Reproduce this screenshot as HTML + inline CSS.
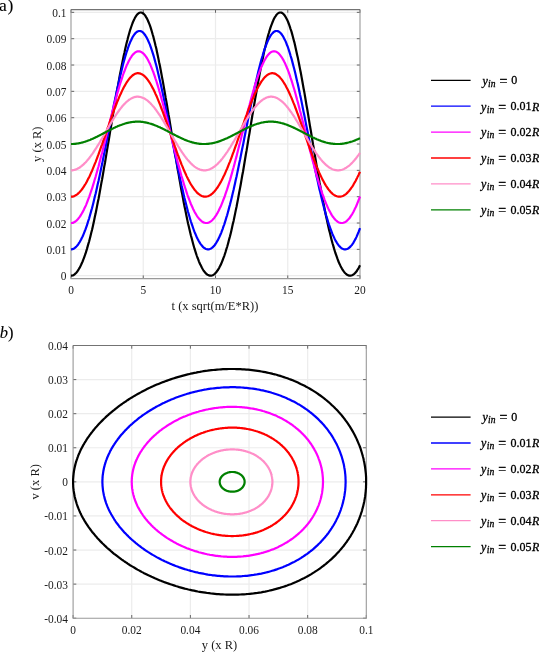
<!DOCTYPE html><html><head><meta charset="utf-8"><style>html,body{margin:0;padding:0;background:#fff;overflow:hidden}svg{display:block}</style></head><body><svg width="539" height="652" viewBox="0 0 539 652">
<rect width="539" height="652" fill="#fff"/>
<g stroke="#ececec" stroke-width="1.2"><line x1="143.25" y1="9.6" x2="143.25" y2="278.6"/><line x1="215.50" y1="9.6" x2="215.50" y2="278.6"/><line x1="287.75" y1="9.6" x2="287.75" y2="278.6"/><line x1="71.0" y1="275.70" x2="360.0" y2="275.70"/><line x1="71.0" y1="249.36" x2="360.0" y2="249.36"/><line x1="71.0" y1="223.03" x2="360.0" y2="223.03"/><line x1="71.0" y1="196.69" x2="360.0" y2="196.69"/><line x1="71.0" y1="170.36" x2="360.0" y2="170.36"/><line x1="71.0" y1="144.02" x2="360.0" y2="144.02"/><line x1="71.0" y1="117.69" x2="360.0" y2="117.69"/><line x1="71.0" y1="91.35" x2="360.0" y2="91.35"/><line x1="71.0" y1="65.02" x2="360.0" y2="65.02"/><line x1="71.0" y1="38.69" x2="360.0" y2="38.69"/><line x1="71.0" y1="12.35" x2="360.0" y2="12.35"/></g>
<g stroke="#666" stroke-width="1"><line x1="71.00" y1="278.6" x2="71.00" y2="275.40000000000003"/><line x1="71.00" y1="9.6" x2="71.00" y2="12.8"/><line x1="143.25" y1="278.6" x2="143.25" y2="275.40000000000003"/><line x1="143.25" y1="9.6" x2="143.25" y2="12.8"/><line x1="215.50" y1="278.6" x2="215.50" y2="275.40000000000003"/><line x1="215.50" y1="9.6" x2="215.50" y2="12.8"/><line x1="287.75" y1="278.6" x2="287.75" y2="275.40000000000003"/><line x1="287.75" y1="9.6" x2="287.75" y2="12.8"/><line x1="360.00" y1="278.6" x2="360.00" y2="275.40000000000003"/><line x1="360.00" y1="9.6" x2="360.00" y2="12.8"/><line x1="71.0" y1="275.70" x2="74.2" y2="275.70"/><line x1="360.0" y1="275.70" x2="356.8" y2="275.70"/><line x1="71.0" y1="249.36" x2="74.2" y2="249.36"/><line x1="360.0" y1="249.36" x2="356.8" y2="249.36"/><line x1="71.0" y1="223.03" x2="74.2" y2="223.03"/><line x1="360.0" y1="223.03" x2="356.8" y2="223.03"/><line x1="71.0" y1="196.69" x2="74.2" y2="196.69"/><line x1="360.0" y1="196.69" x2="356.8" y2="196.69"/><line x1="71.0" y1="170.36" x2="74.2" y2="170.36"/><line x1="360.0" y1="170.36" x2="356.8" y2="170.36"/><line x1="71.0" y1="144.02" x2="74.2" y2="144.02"/><line x1="360.0" y1="144.02" x2="356.8" y2="144.02"/><line x1="71.0" y1="117.69" x2="74.2" y2="117.69"/><line x1="360.0" y1="117.69" x2="356.8" y2="117.69"/><line x1="71.0" y1="91.35" x2="74.2" y2="91.35"/><line x1="360.0" y1="91.35" x2="356.8" y2="91.35"/><line x1="71.0" y1="65.02" x2="74.2" y2="65.02"/><line x1="360.0" y1="65.02" x2="356.8" y2="65.02"/><line x1="71.0" y1="38.69" x2="74.2" y2="38.69"/><line x1="360.0" y1="38.69" x2="356.8" y2="38.69"/><line x1="71.0" y1="12.35" x2="74.2" y2="12.35"/><line x1="360.0" y1="12.35" x2="356.8" y2="12.35"/></g>
<g stroke-width="1.1" fill="none"><path d="M71.0,9.6 L71.0,278.6 L360.0,278.6 L360.0,9.6" stroke="#999999"/><path d="M71.0,9.6 L360.0,9.6" stroke="#737373"/></g>
<g fill="none" stroke-width="2.2" stroke-linejoin="round"><path d="M71.0,275.7 L71.7,275.6 L72.4,275.5 L73.2,275.2 L73.9,274.8 L74.6,274.3 L75.3,273.7 L76.1,273.0 L76.8,272.1 L77.5,271.2 L78.2,270.1 L78.9,269.0 L79.7,267.7 L80.4,266.3 L81.1,264.8 L81.8,263.2 L82.6,261.5 L83.3,259.7 L84.0,257.8 L84.7,255.8 L85.5,253.7 L86.2,251.4 L86.9,249.1 L87.6,246.6 L88.3,244.1 L89.1,241.5 L89.8,238.7 L90.5,235.9 L91.2,233.0 L92.0,230.0 L92.7,226.9 L93.4,223.7 L94.1,220.4 L94.8,217.0 L95.6,213.6 L96.3,210.0 L97.0,206.4 L97.7,202.7 L98.5,199.0 L99.2,195.2 L99.9,191.3 L100.6,187.4 L101.3,183.4 L102.1,179.3 L102.8,175.2 L103.5,171.1 L104.2,166.9 L105.0,162.7 L105.7,158.4 L106.4,154.1 L107.1,149.8 L107.8,145.5 L108.6,141.1 L109.3,136.8 L110.0,132.4 L110.7,128.1 L111.5,123.7 L112.2,119.4 L112.9,115.0 L113.6,110.7 L114.3,106.4 L115.1,102.2 L115.8,98.0 L116.5,93.8 L117.2,89.7 L118.0,85.6 L118.7,81.6 L119.4,77.7 L120.1,73.8 L120.9,70.0 L121.6,66.3 L122.3,62.7 L123.0,59.1 L123.7,55.7 L124.5,52.4 L125.2,49.1 L125.9,46.0 L126.6,43.0 L127.4,40.1 L128.1,37.3 L128.8,34.7 L129.5,32.2 L130.2,29.8 L131.0,27.5 L131.7,25.5 L132.4,23.5 L133.1,21.7 L133.9,20.1 L134.6,18.6 L135.3,17.3 L136.0,16.1 L136.7,15.1 L137.5,14.2 L138.2,13.6 L138.9,13.0 L139.6,12.7 L140.4,12.5 L141.1,12.5 L141.8,12.7 L142.5,13.0 L143.2,13.5 L144.0,14.1 L144.7,14.9 L145.4,15.9 L146.1,17.1 L146.9,18.4 L147.6,19.8 L148.3,21.5 L149.0,23.2 L149.8,25.2 L150.5,27.2 L151.2,29.4 L151.9,31.8 L152.6,34.3 L153.4,36.9 L154.1,39.7 L154.8,42.5 L155.5,45.5 L156.3,48.6 L157.0,51.9 L157.7,55.2 L158.4,58.6 L159.1,62.2 L159.9,65.8 L160.6,69.5 L161.3,73.3 L162.0,77.1 L162.8,81.1 L163.5,85.1 L164.2,89.1 L164.9,93.2 L165.6,97.4 L166.4,101.6 L167.1,105.8 L167.8,110.1 L168.5,114.4 L169.3,118.7 L170.0,123.1 L170.7,127.4 L171.4,131.8 L172.1,136.1 L172.9,140.5 L173.6,144.8 L174.3,149.2 L175.0,153.5 L175.8,157.8 L176.5,162.0 L177.2,166.3 L177.9,170.5 L178.7,174.6 L179.4,178.7 L180.1,182.8 L180.8,186.8 L181.5,190.7 L182.3,194.6 L183.0,198.4 L183.7,202.2 L184.4,205.9 L185.2,209.5 L185.9,213.0 L186.6,216.5 L187.3,219.9 L188.0,223.2 L188.8,226.4 L189.5,229.5 L190.2,232.5 L190.9,235.5 L191.7,238.3 L192.4,241.1 L193.1,243.7 L193.8,246.3 L194.5,248.7 L195.3,251.1 L196.0,253.3 L196.7,255.5 L197.4,257.5 L198.2,259.4 L198.9,261.3 L199.6,263.0 L200.3,264.6 L201.1,266.1 L201.8,267.5 L202.5,268.8 L203.2,270.0 L203.9,271.1 L204.7,272.0 L205.4,272.9 L206.1,273.6 L206.8,274.2 L207.6,274.7 L208.3,275.1 L209.0,275.4 L209.7,275.6 L210.4,275.7 L211.2,275.7 L211.9,275.5 L212.6,275.2 L213.3,274.9 L214.1,274.4 L214.8,273.8 L215.5,273.1 L216.2,272.3 L216.9,271.3 L217.7,270.3 L218.4,269.2 L219.1,267.9 L219.8,266.5 L220.6,265.1 L221.3,263.5 L222.0,261.8 L222.7,260.0 L223.4,258.1 L224.2,256.1 L224.9,254.0 L225.6,251.8 L226.3,249.4 L227.1,247.0 L227.8,244.5 L228.5,241.9 L229.2,239.1 L230.0,236.3 L230.7,233.4 L231.4,230.4 L232.1,227.3 L232.8,224.1 L233.6,220.9 L234.3,217.5 L235.0,214.1 L235.7,210.6 L236.5,207.0 L237.2,203.3 L237.9,199.6 L238.6,195.8 L239.3,191.9 L240.1,187.9 L240.8,184.0 L241.5,179.9 L242.2,175.8 L243.0,171.7 L243.7,167.5 L244.4,163.3 L245.1,159.0 L245.8,154.7 L246.6,150.4 L247.3,146.1 L248.0,141.8 L248.7,137.4 L249.5,133.1 L250.2,128.7 L250.9,124.3 L251.6,120.0 L252.3,115.7 L253.1,111.4 L253.8,107.1 L254.5,102.8 L255.2,98.6 L256.0,94.4 L256.7,90.3 L257.4,86.2 L258.1,82.2 L258.9,78.3 L259.6,74.4 L260.3,70.6 L261.0,66.9 L261.7,63.2 L262.5,59.7 L263.2,56.2 L263.9,52.8 L264.6,49.6 L265.4,46.4 L266.1,43.4 L266.8,40.5 L267.5,37.7 L268.2,35.0 L269.0,32.5 L269.7,30.1 L270.4,27.9 L271.1,25.8 L271.9,23.8 L272.6,22.0 L273.3,20.3 L274.0,18.8 L274.7,17.4 L275.5,16.3 L276.2,15.2 L276.9,14.4 L277.6,13.6 L278.4,13.1 L279.1,12.7 L279.8,12.5 L280.5,12.5 L281.2,12.6 L282.0,12.9 L282.7,13.4 L283.4,14.0 L284.1,14.8 L284.9,15.8 L285.6,16.9 L286.3,18.2 L287.0,19.6 L287.8,21.2 L288.5,23.0 L289.2,24.9 L289.9,26.9 L290.6,29.1 L291.4,31.4 L292.1,33.9 L292.8,36.5 L293.5,39.2 L294.3,42.1 L295.0,45.1 L295.7,48.2 L296.4,51.4 L297.1,54.7 L297.9,58.1 L298.6,61.6 L299.3,65.2 L300.0,68.9 L300.8,72.7 L301.5,76.6 L302.2,80.5 L302.9,84.5 L303.6,88.5 L304.4,92.6 L305.1,96.8 L305.8,101.0 L306.5,105.2 L307.3,109.5 L308.0,113.8 L308.7,118.1 L309.4,122.4 L310.1,126.8 L310.9,131.1 L311.6,135.5 L312.3,139.8 L313.0,144.2 L313.8,148.5 L314.5,152.8 L315.2,157.1 L315.9,161.4 L316.6,165.6 L317.4,169.8 L318.1,174.0 L318.8,178.1 L319.5,182.2 L320.3,186.2 L321.0,190.2 L321.7,194.1 L322.4,197.9 L323.2,201.7 L323.9,205.4 L324.6,209.0 L325.3,212.5 L326.0,216.0 L326.8,219.4 L327.5,222.7 L328.2,225.9 L328.9,229.1 L329.7,232.1 L330.4,235.1 L331.1,237.9 L331.8,240.7 L332.5,243.3 L333.3,245.9 L334.0,248.4 L334.7,250.7 L335.4,253.0 L336.2,255.2 L336.9,257.2 L337.6,259.2 L338.3,261.0 L339.0,262.8 L339.8,264.4 L340.5,265.9 L341.2,267.3 L341.9,268.6 L342.7,269.8 L343.4,270.9 L344.1,271.9 L344.8,272.7 L345.6,273.5 L346.3,274.1 L347.0,274.7 L347.7,275.1 L348.4,275.4 L349.2,275.6 L349.9,275.7 L350.6,275.7 L351.3,275.5 L352.1,275.3 L352.8,274.9 L353.5,274.5 L354.2,273.9 L354.9,273.2 L355.7,272.4 L356.4,271.5 L357.1,270.5 L357.8,269.3 L358.6,268.1 L359.3,266.7 L360.0,265.3" stroke="#000000"/><path d="M71.0,249.4 L71.7,249.3 L72.4,249.2 L73.2,248.9 L73.9,248.6 L74.6,248.1 L75.3,247.5 L76.1,246.9 L76.8,246.1 L77.5,245.3 L78.2,244.3 L78.9,243.2 L79.7,242.1 L80.4,240.8 L81.1,239.5 L81.8,238.0 L82.6,236.5 L83.3,234.8 L84.0,233.1 L84.7,231.3 L85.5,229.4 L86.2,227.4 L86.9,225.3 L87.6,223.1 L88.3,220.8 L89.1,218.5 L89.8,216.0 L90.5,213.5 L91.2,210.9 L92.0,208.2 L92.7,205.5 L93.4,202.7 L94.1,199.8 L94.8,196.8 L95.6,193.8 L96.3,190.7 L97.0,187.5 L97.7,184.3 L98.5,181.1 L99.2,177.8 L99.9,174.4 L100.6,171.0 L101.3,167.6 L102.1,164.1 L102.8,160.6 L103.5,157.0 L104.2,153.4 L105.0,149.8 L105.7,146.2 L106.4,142.6 L107.1,138.9 L107.8,135.3 L108.6,131.6 L109.3,128.0 L110.0,124.3 L110.7,120.7 L111.5,117.1 L112.2,113.4 L112.9,109.9 L113.6,106.3 L114.3,102.8 L115.1,99.3 L115.8,95.9 L116.5,92.5 L117.2,89.1 L118.0,85.8 L118.7,82.6 L119.4,79.4 L120.1,76.3 L120.9,73.3 L121.6,70.3 L122.3,67.4 L123.0,64.6 L123.7,61.9 L124.5,59.3 L125.2,56.8 L125.9,54.4 L126.6,52.0 L127.4,49.8 L128.1,47.7 L128.8,45.7 L129.5,43.9 L130.2,42.1 L131.0,40.5 L131.7,39.0 L132.4,37.6 L133.1,36.3 L133.9,35.2 L134.6,34.2 L135.3,33.3 L136.0,32.6 L136.7,32.0 L137.5,31.5 L138.2,31.2 L138.9,31.0 L139.6,31.0 L140.4,31.1 L141.1,31.3 L141.8,31.6 L142.5,32.1 L143.2,32.8 L144.0,33.6 L144.7,34.5 L145.4,35.5 L146.1,36.7 L146.9,38.0 L147.6,39.4 L148.3,41.0 L149.0,42.6 L149.8,44.4 L150.5,46.3 L151.2,48.4 L151.9,50.5 L152.6,52.7 L153.4,55.1 L154.1,57.5 L154.8,60.1 L155.5,62.7 L156.3,65.5 L157.0,68.3 L157.7,71.2 L158.4,74.2 L159.1,77.2 L159.9,80.4 L160.6,83.6 L161.3,86.8 L162.0,90.1 L162.8,93.5 L163.5,96.9 L164.2,100.4 L164.9,103.9 L165.6,107.4 L166.4,111.0 L167.1,114.5 L167.8,118.2 L168.5,121.8 L169.3,125.4 L170.0,129.1 L170.7,132.7 L171.4,136.4 L172.1,140.0 L172.9,143.7 L173.6,147.3 L174.3,150.9 L175.0,154.5 L175.8,158.1 L176.5,161.6 L177.2,165.1 L177.9,168.6 L178.7,172.0 L179.4,175.4 L180.1,178.8 L180.8,182.1 L181.5,185.3 L182.3,188.5 L183.0,191.6 L183.7,194.7 L184.4,197.7 L185.2,200.7 L185.9,203.5 L186.6,206.3 L187.3,209.1 L188.0,211.7 L188.8,214.3 L189.5,216.8 L190.2,219.2 L190.9,221.5 L191.7,223.8 L192.4,225.9 L193.1,228.0 L193.8,230.0 L194.5,231.9 L195.3,233.7 L196.0,235.4 L196.7,237.0 L197.4,238.5 L198.2,239.9 L198.9,241.2 L199.6,242.4 L200.3,243.6 L201.1,244.6 L201.8,245.5 L202.5,246.4 L203.2,247.1 L203.9,247.7 L204.7,248.2 L205.4,248.7 L206.1,249.0 L206.8,249.2 L207.6,249.3 L208.3,249.4 L209.0,249.3 L209.7,249.1 L210.4,248.8 L211.2,248.4 L211.9,247.9 L212.6,247.3 L213.3,246.7 L214.1,245.9 L214.8,245.0 L215.5,244.0 L216.2,242.9 L216.9,241.7 L217.7,240.4 L218.4,239.0 L219.1,237.6 L219.8,236.0 L220.6,234.3 L221.3,232.6 L222.0,230.7 L222.7,228.8 L223.4,226.7 L224.2,224.6 L224.9,222.4 L225.6,220.1 L226.3,217.7 L227.1,215.3 L227.8,212.7 L228.5,210.1 L229.2,207.4 L230.0,204.6 L230.7,201.8 L231.4,198.9 L232.1,195.9 L232.8,192.9 L233.6,189.7 L234.3,186.6 L235.0,183.4 L235.7,180.1 L236.5,176.8 L237.2,173.4 L237.9,170.0 L238.6,166.5 L239.3,163.0 L240.1,159.5 L240.8,155.9 L241.5,152.3 L242.2,148.7 L243.0,145.1 L243.7,141.5 L244.4,137.8 L245.1,134.2 L245.8,130.5 L246.6,126.9 L247.3,123.2 L248.0,119.6 L248.7,116.0 L249.5,112.4 L250.2,108.8 L250.9,105.2 L251.6,101.7 L252.3,98.3 L253.1,94.8 L253.8,91.4 L254.5,88.1 L255.2,84.8 L256.0,81.6 L256.7,78.5 L257.4,75.4 L258.1,72.4 L258.9,69.4 L259.6,66.6 L260.3,63.8 L261.0,61.1 L261.7,58.5 L262.5,56.0 L263.2,53.6 L263.9,51.4 L264.6,49.2 L265.4,47.1 L266.1,45.2 L266.8,43.3 L267.5,41.6 L268.2,40.0 L269.0,38.5 L269.7,37.2 L270.4,35.9 L271.1,34.9 L271.9,33.9 L272.6,33.1 L273.3,32.4 L274.0,31.8 L274.7,31.4 L275.5,31.1 L276.2,31.0 L276.9,31.0 L277.6,31.1 L278.4,31.4 L279.1,31.8 L279.8,32.3 L280.5,33.0 L281.2,33.8 L282.0,34.8 L282.7,35.8 L283.4,37.1 L284.1,38.4 L284.9,39.9 L285.6,41.4 L286.3,43.2 L287.0,45.0 L287.8,46.9 L288.5,49.0 L289.2,51.2 L289.9,53.4 L290.6,55.8 L291.4,58.3 L292.1,60.9 L292.8,63.6 L293.5,66.3 L294.3,69.2 L295.0,72.1 L295.7,75.1 L296.4,78.2 L297.1,81.3 L297.9,84.5 L298.6,87.8 L299.3,91.1 L300.0,94.5 L300.8,97.9 L301.5,101.4 L302.2,104.9 L302.9,108.5 L303.6,112.0 L304.4,115.6 L305.1,119.3 L305.8,122.9 L306.5,126.5 L307.3,130.2 L308.0,133.8 L308.7,137.5 L309.4,141.1 L310.1,144.8 L310.9,148.4 L311.6,152.0 L312.3,155.6 L313.0,159.2 L313.8,162.7 L314.5,166.2 L315.2,169.7 L315.9,173.1 L316.6,176.5 L317.4,179.8 L318.1,183.1 L318.8,186.3 L319.5,189.5 L320.3,192.6 L321.0,195.6 L321.7,198.6 L322.4,201.5 L323.2,204.4 L323.9,207.2 L324.6,209.9 L325.3,212.5 L326.0,215.0 L326.8,217.5 L327.5,219.9 L328.2,222.2 L328.9,224.4 L329.7,226.6 L330.4,228.6 L331.1,230.5 L331.8,232.4 L332.5,234.2 L333.3,235.9 L334.0,237.4 L334.7,238.9 L335.4,240.3 L336.2,241.6 L336.9,242.8 L337.6,243.9 L338.3,244.9 L339.0,245.8 L339.8,246.6 L340.5,247.3 L341.2,247.9 L341.9,248.4 L342.7,248.8 L343.4,249.1 L344.1,249.3 L344.8,249.4 L345.6,249.3 L346.3,249.2 L347.0,249.0 L347.7,248.7 L348.4,248.3 L349.2,247.8 L349.9,247.1 L350.6,246.4 L351.3,245.6 L352.1,244.7 L352.8,243.7 L353.5,242.6 L354.2,241.3 L354.9,240.0 L355.7,238.6 L356.4,237.1 L357.1,235.5 L357.8,233.8 L358.6,232.0 L359.3,230.1 L360.0,228.2" stroke="#0000ff"/><path d="M71.0,223.0 L71.7,223.0 L72.4,222.9 L73.2,222.6 L73.9,222.3 L74.6,222.0 L75.3,221.5 L76.1,220.9 L76.8,220.3 L77.5,219.6 L78.2,218.8 L78.9,217.9 L79.7,216.9 L80.4,215.8 L81.1,214.7 L81.8,213.5 L82.6,212.2 L83.3,210.8 L84.0,209.4 L84.7,207.8 L85.5,206.2 L86.2,204.6 L86.9,202.8 L87.6,201.0 L88.3,199.1 L89.1,197.1 L89.8,195.1 L90.5,193.0 L91.2,190.9 L92.0,188.7 L92.7,186.4 L93.4,184.1 L94.1,181.7 L94.8,179.3 L95.6,176.8 L96.3,174.3 L97.0,171.7 L97.7,169.1 L98.5,166.5 L99.2,163.8 L99.9,161.1 L100.6,158.3 L101.3,155.5 L102.1,152.7 L102.8,149.9 L103.5,147.0 L104.2,144.2 L105.0,141.3 L105.7,138.4 L106.4,135.5 L107.1,132.6 L107.8,129.7 L108.6,126.8 L109.3,123.9 L110.0,121.1 L110.7,118.2 L111.5,115.4 L112.2,112.5 L112.9,109.7 L113.6,107.0 L114.3,104.2 L115.1,101.5 L115.8,98.9 L116.5,96.2 L117.2,93.6 L118.0,91.1 L118.7,88.6 L119.4,86.2 L120.1,83.8 L120.9,81.5 L121.6,79.3 L122.3,77.1 L123.0,75.0 L123.7,73.0 L124.5,71.0 L125.2,69.1 L125.9,67.4 L126.6,65.6 L127.4,64.0 L128.1,62.5 L128.8,61.0 L129.5,59.7 L130.2,58.4 L131.0,57.3 L131.7,56.2 L132.4,55.2 L133.1,54.4 L133.9,53.6 L134.6,53.0 L135.3,52.4 L136.0,52.0 L136.7,51.6 L137.5,51.4 L138.2,51.3 L138.9,51.3 L139.6,51.4 L140.4,51.6 L141.1,51.9 L141.8,52.3 L142.5,52.8 L143.2,53.4 L144.0,54.1 L144.7,55.0 L145.4,55.9 L146.1,56.9 L146.9,58.0 L147.6,59.3 L148.3,60.6 L149.0,62.0 L149.8,63.5 L150.5,65.1 L151.2,66.8 L151.9,68.6 L152.6,70.4 L153.4,72.3 L154.1,74.3 L154.8,76.4 L155.5,78.6 L156.3,80.8 L157.0,83.1 L157.7,85.4 L158.4,87.8 L159.1,90.3 L159.9,92.8 L160.6,95.4 L161.3,98.0 L162.0,100.6 L162.8,103.3 L163.5,106.1 L164.2,108.8 L164.9,111.6 L165.6,114.4 L166.4,117.3 L167.1,120.1 L167.8,123.0 L168.5,125.9 L169.3,128.8 L170.0,131.7 L170.7,134.6 L171.4,137.5 L172.1,140.4 L172.9,143.2 L173.6,146.1 L174.3,149.0 L175.0,151.8 L175.8,154.6 L176.5,157.4 L177.2,160.2 L177.9,162.9 L178.7,165.6 L179.4,168.3 L180.1,170.9 L180.8,173.5 L181.5,176.0 L182.3,178.5 L183.0,180.9 L183.7,183.3 L184.4,185.7 L185.2,188.0 L185.9,190.2 L186.6,192.3 L187.3,194.5 L188.0,196.5 L188.8,198.5 L189.5,200.4 L190.2,202.2 L190.9,204.0 L191.7,205.7 L192.4,207.3 L193.1,208.9 L193.8,210.3 L194.5,211.7 L195.3,213.1 L196.0,214.3 L196.7,215.5 L197.4,216.6 L198.2,217.6 L198.9,218.5 L199.6,219.3 L200.3,220.1 L201.1,220.7 L201.8,221.3 L202.5,221.8 L203.2,222.2 L203.9,222.6 L204.7,222.8 L205.4,223.0 L206.1,223.0 L206.8,223.0 L207.6,222.9 L208.3,222.7 L209.0,222.4 L209.7,222.1 L210.4,221.6 L211.2,221.1 L211.9,220.5 L212.6,219.8 L213.3,219.0 L214.1,218.2 L214.8,217.2 L215.5,216.2 L216.2,215.1 L216.9,213.9 L217.7,212.6 L218.4,211.3 L219.1,209.8 L219.8,208.3 L220.6,206.8 L221.3,205.1 L222.0,203.4 L222.7,201.6 L223.4,199.7 L224.2,197.8 L224.9,195.8 L225.6,193.7 L226.3,191.6 L227.1,189.4 L227.8,187.2 L228.5,184.9 L229.2,182.5 L230.0,180.1 L230.7,177.6 L231.4,175.1 L232.1,172.6 L232.8,170.0 L233.6,167.3 L234.3,164.7 L235.0,162.0 L235.7,159.2 L236.5,156.4 L237.2,153.6 L237.9,150.8 L238.6,148.0 L239.3,145.1 L240.1,142.2 L240.8,139.4 L241.5,136.5 L242.2,133.6 L243.0,130.7 L243.7,127.8 L244.4,124.9 L245.1,122.0 L245.8,119.1 L246.6,116.3 L247.3,113.5 L248.0,110.6 L248.7,107.9 L249.5,105.1 L250.2,102.4 L250.9,99.7 L251.6,97.1 L252.3,94.5 L253.1,91.9 L253.8,89.4 L254.5,87.0 L255.2,84.6 L256.0,82.3 L256.7,80.0 L257.4,77.8 L258.1,75.7 L258.9,73.6 L259.6,71.7 L260.3,69.8 L261.0,67.9 L261.7,66.2 L262.5,64.5 L263.2,63.0 L263.9,61.5 L264.6,60.1 L265.4,58.8 L266.1,57.6 L266.8,56.5 L267.5,55.6 L268.2,54.7 L269.0,53.9 L269.7,53.2 L270.4,52.6 L271.1,52.1 L271.9,51.7 L272.6,51.5 L273.3,51.3 L274.0,51.3 L274.7,51.3 L275.5,51.5 L276.2,51.7 L276.9,52.1 L277.6,52.6 L278.4,53.2 L279.1,53.9 L279.8,54.7 L280.5,55.6 L281.2,56.6 L282.0,57.7 L282.7,58.9 L283.4,60.1 L284.1,61.5 L284.9,63.0 L285.6,64.6 L286.3,66.2 L287.0,68.0 L287.8,69.8 L288.5,71.7 L289.2,73.7 L289.9,75.7 L290.6,77.9 L291.4,80.1 L292.1,82.3 L292.8,84.7 L293.5,87.0 L294.3,89.5 L295.0,92.0 L295.7,94.5 L296.4,97.1 L297.1,99.8 L297.9,102.5 L298.6,105.2 L299.3,107.9 L300.0,110.7 L300.8,113.5 L301.5,116.4 L302.2,119.2 L302.9,122.1 L303.6,124.9 L304.4,127.8 L305.1,130.7 L305.8,133.6 L306.5,136.5 L307.3,139.4 L308.0,142.3 L308.7,145.2 L309.4,148.0 L310.1,150.9 L310.9,153.7 L311.6,156.5 L312.3,159.3 L313.0,162.0 L313.8,164.7 L314.5,167.4 L315.2,170.0 L315.9,172.6 L316.6,175.2 L317.4,177.7 L318.1,180.1 L318.8,182.6 L319.5,184.9 L320.3,187.2 L321.0,189.5 L321.7,191.6 L322.4,193.8 L323.2,195.8 L323.9,197.8 L324.6,199.8 L325.3,201.6 L326.0,203.4 L326.8,205.1 L327.5,206.8 L328.2,208.4 L328.9,209.9 L329.7,211.3 L330.4,212.6 L331.1,213.9 L331.8,215.1 L332.5,216.2 L333.3,217.2 L334.0,218.2 L334.7,219.0 L335.4,219.8 L336.2,220.5 L336.9,221.1 L337.6,221.7 L338.3,222.1 L339.0,222.5 L339.8,222.7 L340.5,222.9 L341.2,223.0 L341.9,223.0 L342.7,223.0 L343.4,222.8 L344.1,222.5 L344.8,222.2 L345.6,221.8 L346.3,221.3 L347.0,220.7 L347.7,220.0 L348.4,219.3 L349.2,218.5 L349.9,217.5 L350.6,216.5 L351.3,215.4 L352.1,214.3 L352.8,213.0 L353.5,211.7 L354.2,210.3 L354.9,208.8 L355.7,207.3 L356.4,205.7 L357.1,204.0 L357.8,202.2 L358.6,200.3 L359.3,198.4 L360.0,196.5" stroke="#ff00ff"/><path d="M71.0,196.7 L71.7,196.7 L72.4,196.6 L73.2,196.4 L73.9,196.2 L74.6,195.9 L75.3,195.5 L76.1,195.1 L76.8,194.6 L77.5,194.1 L78.2,193.4 L78.9,192.8 L79.7,192.0 L80.4,191.2 L81.1,190.4 L81.8,189.5 L82.6,188.5 L83.3,187.4 L84.0,186.3 L84.7,185.2 L85.5,184.0 L86.2,182.7 L86.9,181.4 L87.6,180.0 L88.3,178.6 L89.1,177.2 L89.8,175.7 L90.5,174.1 L91.2,172.5 L92.0,170.9 L92.7,169.2 L93.4,167.4 L94.1,165.7 L94.8,163.9 L95.6,162.1 L96.3,160.2 L97.0,158.3 L97.7,156.4 L98.5,154.4 L99.2,152.4 L99.9,150.4 L100.6,148.4 L101.3,146.4 L102.1,144.3 L102.8,142.3 L103.5,140.2 L104.2,138.1 L105.0,136.0 L105.7,133.9 L106.4,131.8 L107.1,129.8 L107.8,127.7 L108.6,125.6 L109.3,123.5 L110.0,121.4 L110.7,119.4 L111.5,117.4 L112.2,115.3 L112.9,113.3 L113.6,111.4 L114.3,109.4 L115.1,107.5 L115.8,105.6 L116.5,103.8 L117.2,101.9 L118.0,100.2 L118.7,98.4 L119.4,96.7 L120.1,95.1 L120.9,93.5 L121.6,91.9 L122.3,90.4 L123.0,88.9 L123.7,87.5 L124.5,86.2 L125.2,84.9 L125.9,83.7 L126.6,82.5 L127.4,81.4 L128.1,80.4 L128.8,79.4 L129.5,78.5 L130.2,77.6 L131.0,76.9 L131.7,76.2 L132.4,75.5 L133.1,75.0 L133.9,74.5 L134.6,74.1 L135.3,73.8 L136.0,73.5 L136.7,73.3 L137.5,73.2 L138.2,73.2 L138.9,73.3 L139.6,73.4 L140.4,73.6 L141.1,73.9 L141.8,74.2 L142.5,74.6 L143.2,75.1 L144.0,75.7 L144.7,76.3 L145.4,77.1 L146.1,77.8 L146.9,78.7 L147.6,79.6 L148.3,80.6 L149.0,81.7 L149.8,82.8 L150.5,84.0 L151.2,85.2 L151.9,86.5 L152.6,87.9 L153.4,89.3 L154.1,90.8 L154.8,92.3 L155.5,93.9 L156.3,95.5 L157.0,97.2 L157.7,98.9 L158.4,100.6 L159.1,102.4 L159.9,104.2 L160.6,106.1 L161.3,108.0 L162.0,109.9 L162.8,111.9 L163.5,113.9 L164.2,115.9 L164.9,117.9 L165.6,119.9 L166.4,122.0 L167.1,124.0 L167.8,126.1 L168.5,128.2 L169.3,130.3 L170.0,132.4 L170.7,134.5 L171.4,136.6 L172.1,138.7 L172.9,140.7 L173.6,142.8 L174.3,144.9 L175.0,146.9 L175.8,148.9 L176.5,151.0 L177.2,153.0 L177.9,154.9 L178.7,156.9 L179.4,158.8 L180.1,160.7 L180.8,162.5 L181.5,164.4 L182.3,166.1 L183.0,167.9 L183.7,169.6 L184.4,171.3 L185.2,172.9 L185.9,174.5 L186.6,176.1 L187.3,177.6 L188.0,179.0 L188.8,180.4 L189.5,181.8 L190.2,183.1 L190.9,184.3 L191.7,185.5 L192.4,186.6 L193.1,187.7 L193.8,188.7 L194.5,189.7 L195.3,190.6 L196.0,191.4 L196.7,192.2 L197.4,193.0 L198.2,193.6 L198.9,194.2 L199.6,194.7 L200.3,195.2 L201.1,195.6 L201.8,196.0 L202.5,196.2 L203.2,196.4 L203.9,196.6 L204.7,196.7 L205.4,196.7 L206.1,196.6 L206.8,196.5 L207.6,196.3 L208.3,196.1 L209.0,195.8 L209.7,195.4 L210.4,195.0 L211.2,194.5 L211.9,193.9 L212.6,193.3 L213.3,192.6 L214.1,191.8 L214.8,191.0 L215.5,190.1 L216.2,189.2 L216.9,188.2 L217.7,187.2 L218.4,186.0 L219.1,184.9 L219.8,183.7 L220.6,182.4 L221.3,181.1 L222.0,179.7 L222.7,178.3 L223.4,176.8 L224.2,175.3 L224.9,173.7 L225.6,172.1 L226.3,170.4 L227.1,168.7 L227.8,167.0 L228.5,165.2 L229.2,163.4 L230.0,161.6 L230.7,159.7 L231.4,157.8 L232.1,155.9 L232.8,153.9 L233.6,151.9 L234.3,149.9 L235.0,147.9 L235.7,145.9 L236.5,143.8 L237.2,141.7 L237.9,139.7 L238.6,137.6 L239.3,135.5 L240.1,133.4 L240.8,131.3 L241.5,129.2 L242.2,127.1 L243.0,125.0 L243.7,123.0 L244.4,120.9 L245.1,118.9 L245.8,116.8 L246.6,114.8 L247.3,112.8 L248.0,110.9 L248.7,108.9 L249.5,107.0 L250.2,105.1 L250.9,103.3 L251.6,101.5 L252.3,99.7 L253.1,98.0 L253.8,96.3 L254.5,94.6 L255.2,93.0 L256.0,91.5 L256.7,90.0 L257.4,88.6 L258.1,87.2 L258.9,85.8 L259.6,84.6 L260.3,83.4 L261.0,82.2 L261.7,81.1 L262.5,80.1 L263.2,79.1 L263.9,78.2 L264.6,77.4 L265.4,76.7 L266.1,76.0 L266.8,75.4 L267.5,74.9 L268.2,74.4 L269.0,74.0 L269.7,73.7 L270.4,73.5 L271.1,73.3 L271.9,73.2 L272.6,73.2 L273.3,73.3 L274.0,73.4 L274.7,73.6 L275.5,73.9 L276.2,74.3 L276.9,74.8 L277.6,75.3 L278.4,75.9 L279.1,76.5 L279.8,77.3 L280.5,78.1 L281.2,78.9 L282.0,79.9 L282.7,80.9 L283.4,82.0 L284.1,83.1 L284.9,84.3 L285.6,85.5 L286.3,86.9 L287.0,88.2 L287.8,89.7 L288.5,91.2 L289.2,92.7 L289.9,94.3 L290.6,95.9 L291.4,97.6 L292.1,99.3 L292.8,101.1 L293.5,102.9 L294.3,104.7 L295.0,106.6 L295.7,108.5 L296.4,110.4 L297.1,112.4 L297.9,114.4 L298.6,116.4 L299.3,118.4 L300.0,120.4 L300.8,122.5 L301.5,124.6 L302.2,126.7 L302.9,128.7 L303.6,130.8 L304.4,132.9 L305.1,135.0 L305.8,137.1 L306.5,139.2 L307.3,141.3 L308.0,143.3 L308.7,145.4 L309.4,147.4 L310.1,149.5 L310.9,151.5 L311.6,153.5 L312.3,155.4 L313.0,157.4 L313.8,159.3 L314.5,161.2 L315.2,163.0 L315.9,164.8 L316.6,166.6 L317.4,168.3 L318.1,170.0 L318.8,171.7 L319.5,173.3 L320.3,174.9 L321.0,176.4 L321.7,177.9 L322.4,179.4 L323.2,180.8 L323.9,182.1 L324.6,183.4 L325.3,184.6 L326.0,185.8 L326.8,186.9 L327.5,188.0 L328.2,189.0 L328.9,189.9 L329.7,190.8 L330.4,191.7 L331.1,192.4 L331.8,193.1 L332.5,193.8 L333.3,194.4 L334.0,194.9 L334.7,195.3 L335.4,195.7 L336.2,196.0 L336.9,196.3 L337.6,196.5 L338.3,196.6 L339.0,196.7 L339.8,196.7 L340.5,196.6 L341.2,196.5 L341.9,196.3 L342.7,196.0 L343.4,195.7 L344.1,195.3 L344.8,194.9 L345.6,194.3 L346.3,193.8 L347.0,193.1 L347.7,192.4 L348.4,191.6 L349.2,190.8 L349.9,189.9 L350.6,189.0 L351.3,187.9 L352.1,186.9 L352.8,185.8 L353.5,184.6 L354.2,183.3 L354.9,182.1 L355.7,180.7 L356.4,179.3 L357.1,177.9 L357.8,176.4 L358.6,174.9 L359.3,173.3 L360.0,171.7" stroke="#ff0000"/><path d="M71.0,170.4 L71.7,170.3 L72.4,170.3 L73.2,170.2 L73.9,170.0 L74.6,169.9 L75.3,169.6 L76.1,169.4 L76.8,169.1 L77.5,168.7 L78.2,168.3 L78.9,167.9 L79.7,167.5 L80.4,167.0 L81.1,166.4 L81.8,165.9 L82.6,165.2 L83.3,164.6 L84.0,163.9 L84.7,163.2 L85.5,162.5 L86.2,161.7 L86.9,160.9 L87.6,160.0 L88.3,159.2 L89.1,158.3 L89.8,157.3 L90.5,156.4 L91.2,155.4 L92.0,154.4 L92.7,153.4 L93.4,152.3 L94.1,151.2 L94.8,150.1 L95.6,149.0 L96.3,147.9 L97.0,146.7 L97.7,145.6 L98.5,144.4 L99.2,143.2 L99.9,142.0 L100.6,140.7 L101.3,139.5 L102.1,138.3 L102.8,137.0 L103.5,135.8 L104.2,134.5 L105.0,133.3 L105.7,132.0 L106.4,130.8 L107.1,129.5 L107.8,128.3 L108.6,127.0 L109.3,125.8 L110.0,124.6 L110.7,123.4 L111.5,122.2 L112.2,121.0 L112.9,119.8 L113.6,118.6 L114.3,117.5 L115.1,116.3 L115.8,115.2 L116.5,114.1 L117.2,113.1 L118.0,112.0 L118.7,111.0 L119.4,110.0 L120.1,109.1 L120.9,108.1 L121.6,107.2 L122.3,106.3 L123.0,105.5 L123.7,104.7 L124.5,103.9 L125.2,103.2 L125.9,102.5 L126.6,101.8 L127.4,101.2 L128.1,100.6 L128.8,100.0 L129.5,99.5 L130.2,99.1 L131.0,98.6 L131.7,98.2 L132.4,97.9 L133.1,97.6 L133.9,97.3 L134.6,97.1 L135.3,96.9 L136.0,96.8 L136.7,96.7 L137.5,96.7 L138.2,96.7 L138.9,96.8 L139.6,96.8 L140.4,97.0 L141.1,97.2 L141.8,97.4 L142.5,97.7 L143.2,98.0 L144.0,98.3 L144.7,98.7 L145.4,99.2 L146.1,99.6 L146.9,100.2 L147.6,100.7 L148.3,101.3 L149.0,102.0 L149.8,102.6 L150.5,103.4 L151.2,104.1 L151.9,104.9 L152.6,105.7 L153.4,106.5 L154.1,107.4 L154.8,108.3 L155.5,109.3 L156.3,110.3 L157.0,111.3 L157.7,112.3 L158.4,113.3 L159.1,114.4 L159.9,115.5 L160.6,116.6 L161.3,117.7 L162.0,118.9 L162.8,120.1 L163.5,121.2 L164.2,122.4 L164.9,123.6 L165.6,124.9 L166.4,126.1 L167.1,127.3 L167.8,128.6 L168.5,129.8 L169.3,131.1 L170.0,132.3 L170.7,133.6 L171.4,134.8 L172.1,136.1 L172.9,137.3 L173.6,138.6 L174.3,139.8 L175.0,141.0 L175.8,142.2 L176.5,143.4 L177.2,144.6 L177.9,145.8 L178.7,147.0 L179.4,148.1 L180.1,149.3 L180.8,150.4 L181.5,151.5 L182.3,152.6 L183.0,153.6 L183.7,154.6 L184.4,155.6 L185.2,156.6 L185.9,157.6 L186.6,158.5 L187.3,159.4 L188.0,160.2 L188.8,161.1 L189.5,161.9 L190.2,162.6 L190.9,163.4 L191.7,164.1 L192.4,164.8 L193.1,165.4 L193.8,166.0 L194.5,166.6 L195.3,167.1 L196.0,167.6 L196.7,168.0 L197.4,168.4 L198.2,168.8 L198.9,169.1 L199.6,169.4 L200.3,169.7 L201.1,169.9 L201.8,170.1 L202.5,170.2 L203.2,170.3 L203.9,170.3 L204.7,170.4 L205.4,170.3 L206.1,170.3 L206.8,170.1 L207.6,170.0 L208.3,169.8 L209.0,169.6 L209.7,169.3 L210.4,169.0 L211.2,168.6 L211.9,168.2 L212.6,167.8 L213.3,167.3 L214.1,166.8 L214.8,166.3 L215.5,165.7 L216.2,165.1 L216.9,164.5 L217.7,163.8 L218.4,163.0 L219.1,162.3 L219.8,161.5 L220.6,160.7 L221.3,159.8 L222.0,159.0 L222.7,158.1 L223.4,157.1 L224.2,156.2 L224.9,155.2 L225.6,154.2 L226.3,153.1 L227.1,152.1 L227.8,151.0 L228.5,149.9 L229.2,148.7 L230.0,147.6 L230.7,146.5 L231.4,145.3 L232.1,144.1 L232.8,142.9 L233.6,141.7 L234.3,140.5 L235.0,139.2 L235.7,138.0 L236.5,136.7 L237.2,135.5 L237.9,134.2 L238.6,133.0 L239.3,131.7 L240.1,130.5 L240.8,129.2 L241.5,128.0 L242.2,126.8 L243.0,125.5 L243.7,124.3 L244.4,123.1 L245.1,121.9 L245.8,120.7 L246.6,119.5 L247.3,118.4 L248.0,117.2 L248.7,116.1 L249.5,115.0 L250.2,113.9 L250.9,112.8 L251.6,111.8 L252.3,110.8 L253.1,109.8 L253.8,108.8 L254.5,107.9 L255.2,107.0 L256.0,106.2 L256.7,105.3 L257.4,104.5 L258.1,103.7 L258.9,103.0 L259.6,102.3 L260.3,101.7 L261.0,101.0 L261.7,100.5 L262.5,99.9 L263.2,99.4 L263.9,99.0 L264.6,98.5 L265.4,98.2 L266.1,97.8 L266.8,97.5 L267.5,97.3 L268.2,97.1 L269.0,96.9 L269.7,96.8 L270.4,96.7 L271.1,96.7 L271.9,96.7 L272.6,96.8 L273.3,96.9 L274.0,97.0 L274.7,97.2 L275.5,97.4 L276.2,97.7 L276.9,98.0 L277.6,98.4 L278.4,98.8 L279.1,99.3 L279.8,99.8 L280.5,100.3 L281.2,100.9 L282.0,101.5 L282.7,102.1 L283.4,102.8 L284.1,103.5 L284.9,104.3 L285.6,105.1 L286.3,105.9 L287.0,106.8 L287.8,107.6 L288.5,108.6 L289.2,109.5 L289.9,110.5 L290.6,111.5 L291.4,112.5 L292.1,113.6 L292.8,114.6 L293.5,115.7 L294.3,116.9 L295.0,118.0 L295.7,119.2 L296.4,120.3 L297.1,121.5 L297.9,122.7 L298.6,123.9 L299.3,125.1 L300.0,126.4 L300.8,127.6 L301.5,128.9 L302.2,130.1 L302.9,131.4 L303.6,132.6 L304.4,133.9 L305.1,135.1 L305.8,136.4 L306.5,137.6 L307.3,138.9 L308.0,140.1 L308.7,141.3 L309.4,142.5 L310.1,143.7 L310.9,144.9 L311.6,146.1 L312.3,147.3 L313.0,148.4 L313.8,149.5 L314.5,150.6 L315.2,151.7 L315.9,152.8 L316.6,153.8 L317.4,154.9 L318.1,155.9 L318.8,156.8 L319.5,157.8 L320.3,158.7 L321.0,159.6 L321.7,160.4 L322.4,161.3 L323.2,162.1 L323.9,162.8 L324.6,163.6 L325.3,164.2 L326.0,164.9 L326.8,165.5 L327.5,166.1 L328.2,166.7 L328.9,167.2 L329.7,167.7 L330.4,168.1 L331.1,168.5 L331.8,168.9 L332.5,169.2 L333.3,169.5 L334.0,169.7 L334.7,169.9 L335.4,170.1 L336.2,170.2 L336.9,170.3 L337.6,170.4 L338.3,170.4 L339.0,170.3 L339.8,170.2 L340.5,170.1 L341.2,170.0 L341.9,169.8 L342.7,169.5 L343.4,169.2 L344.1,168.9 L344.8,168.5 L345.6,168.1 L346.3,167.7 L347.0,167.2 L347.7,166.7 L348.4,166.2 L349.2,165.6 L349.9,165.0 L350.6,164.3 L351.3,163.6 L352.1,162.9 L352.8,162.1 L353.5,161.3 L354.2,160.5 L354.9,159.6 L355.7,158.8 L356.4,157.8 L357.1,156.9 L357.8,155.9 L358.6,154.9 L359.3,153.9 L360.0,152.9" stroke="#ff8ec8"/><path d="M71.0,144.0 L71.7,144.0 L72.4,144.0 L73.2,144.0 L73.9,143.9 L74.6,143.9 L75.3,143.8 L76.1,143.7 L76.8,143.6 L77.5,143.5 L78.2,143.4 L78.9,143.3 L79.7,143.1 L80.4,143.0 L81.1,142.8 L81.8,142.6 L82.6,142.4 L83.3,142.2 L84.0,142.0 L84.7,141.8 L85.5,141.6 L86.2,141.3 L86.9,141.1 L87.6,140.8 L88.3,140.5 L89.1,140.2 L89.8,140.0 L90.5,139.7 L91.2,139.3 L92.0,139.0 L92.7,138.7 L93.4,138.4 L94.1,138.1 L94.8,137.7 L95.6,137.4 L96.3,137.0 L97.0,136.7 L97.7,136.3 L98.5,135.9 L99.2,135.6 L99.9,135.2 L100.6,134.8 L101.3,134.5 L102.1,134.1 L102.8,133.7 L103.5,133.3 L104.2,132.9 L105.0,132.6 L105.7,132.2 L106.4,131.8 L107.1,131.4 L107.8,131.0 L108.6,130.7 L109.3,130.3 L110.0,129.9 L110.7,129.5 L111.5,129.2 L112.2,128.8 L112.9,128.5 L113.6,128.1 L114.3,127.8 L115.1,127.4 L115.8,127.1 L116.5,126.8 L117.2,126.5 L118.0,126.1 L118.7,125.8 L119.4,125.6 L120.1,125.3 L120.9,125.0 L121.6,124.7 L122.3,124.5 L123.0,124.2 L123.7,124.0 L124.5,123.7 L125.2,123.5 L125.9,123.3 L126.6,123.1 L127.4,122.9 L128.1,122.8 L128.8,122.6 L129.5,122.5 L130.2,122.3 L131.0,122.2 L131.7,122.1 L132.4,122.0 L133.1,121.9 L133.9,121.8 L134.6,121.8 L135.3,121.7 L136.0,121.7 L136.7,121.6 L137.5,121.6 L138.2,121.6 L138.9,121.7 L139.6,121.7 L140.4,121.7 L141.1,121.8 L141.8,121.9 L142.5,121.9 L143.2,122.0 L144.0,122.2 L144.7,122.3 L145.4,122.4 L146.1,122.6 L146.9,122.7 L147.6,122.9 L148.3,123.1 L149.0,123.3 L149.8,123.5 L150.5,123.7 L151.2,123.9 L151.9,124.1 L152.6,124.4 L153.4,124.6 L154.1,124.9 L154.8,125.2 L155.5,125.5 L156.3,125.8 L157.0,126.1 L157.7,126.4 L158.4,126.7 L159.1,127.0 L159.9,127.3 L160.6,127.7 L161.3,128.0 L162.0,128.4 L162.8,128.7 L163.5,129.1 L164.2,129.4 L164.9,129.8 L165.6,130.2 L166.4,130.5 L167.1,130.9 L167.8,131.3 L168.5,131.7 L169.3,132.1 L170.0,132.4 L170.7,132.8 L171.4,133.2 L172.1,133.6 L172.9,134.0 L173.6,134.3 L174.3,134.7 L175.0,135.1 L175.8,135.5 L176.5,135.8 L177.2,136.2 L177.9,136.6 L178.7,136.9 L179.4,137.3 L180.1,137.6 L180.8,137.9 L181.5,138.3 L182.3,138.6 L183.0,138.9 L183.7,139.3 L184.4,139.6 L185.2,139.9 L185.9,140.2 L186.6,140.4 L187.3,140.7 L188.0,141.0 L188.8,141.2 L189.5,141.5 L190.2,141.7 L190.9,141.9 L191.7,142.2 L192.4,142.4 L193.1,142.6 L193.8,142.7 L194.5,142.9 L195.3,143.1 L196.0,143.2 L196.7,143.3 L197.4,143.5 L198.2,143.6 L198.9,143.7 L199.6,143.8 L200.3,143.8 L201.1,143.9 L201.8,144.0 L202.5,144.0 L203.2,144.0 L203.9,144.0 L204.7,144.0 L205.4,144.0 L206.1,144.0 L206.8,143.9 L207.6,143.9 L208.3,143.8 L209.0,143.7 L209.7,143.6 L210.4,143.5 L211.2,143.4 L211.9,143.3 L212.6,143.2 L213.3,143.0 L214.1,142.8 L214.8,142.7 L215.5,142.5 L216.2,142.3 L216.9,142.1 L217.7,141.9 L218.4,141.6 L219.1,141.4 L219.8,141.1 L220.6,140.9 L221.3,140.6 L222.0,140.3 L222.7,140.0 L223.4,139.7 L224.2,139.4 L224.9,139.1 L225.6,138.8 L226.3,138.5 L227.1,138.2 L227.8,137.8 L228.5,137.5 L229.2,137.1 L230.0,136.8 L230.7,136.4 L231.4,136.1 L232.1,135.7 L232.8,135.3 L233.6,134.9 L234.3,134.6 L235.0,134.2 L235.7,133.8 L236.5,133.4 L237.2,133.1 L237.9,132.7 L238.6,132.3 L239.3,131.9 L240.1,131.5 L240.8,131.1 L241.5,130.8 L242.2,130.4 L243.0,130.0 L243.7,129.7 L244.4,129.3 L245.1,128.9 L245.8,128.6 L246.6,128.2 L247.3,127.9 L248.0,127.5 L248.7,127.2 L249.5,126.9 L250.2,126.6 L250.9,126.2 L251.6,125.9 L252.3,125.6 L253.1,125.4 L253.8,125.1 L254.5,124.8 L255.2,124.5 L256.0,124.3 L256.7,124.0 L257.4,123.8 L258.1,123.6 L258.9,123.4 L259.6,123.2 L260.3,123.0 L261.0,122.8 L261.7,122.6 L262.5,122.5 L263.2,122.4 L263.9,122.2 L264.6,122.1 L265.4,122.0 L266.1,121.9 L266.8,121.8 L267.5,121.8 L268.2,121.7 L269.0,121.7 L269.7,121.7 L270.4,121.6 L271.1,121.6 L271.9,121.7 L272.6,121.7 L273.3,121.7 L274.0,121.8 L274.7,121.8 L275.5,121.9 L276.2,122.0 L276.9,122.1 L277.6,122.2 L278.4,122.4 L279.1,122.5 L279.8,122.7 L280.5,122.8 L281.2,123.0 L282.0,123.2 L282.7,123.4 L283.4,123.6 L284.1,123.8 L284.9,124.1 L285.6,124.3 L286.3,124.6 L287.0,124.8 L287.8,125.1 L288.5,125.4 L289.2,125.7 L289.9,126.0 L290.6,126.3 L291.4,126.6 L292.1,126.9 L292.8,127.2 L293.5,127.6 L294.3,127.9 L295.0,128.2 L295.7,128.6 L296.4,129.0 L297.1,129.3 L297.9,129.7 L298.6,130.1 L299.3,130.4 L300.0,130.8 L300.8,131.2 L301.5,131.6 L302.2,131.9 L302.9,132.3 L303.6,132.7 L304.4,133.1 L305.1,133.5 L305.8,133.8 L306.5,134.2 L307.3,134.6 L308.0,135.0 L308.7,135.3 L309.4,135.7 L310.1,136.1 L310.9,136.4 L311.6,136.8 L312.3,137.2 L313.0,137.5 L313.8,137.8 L314.5,138.2 L315.2,138.5 L315.9,138.8 L316.6,139.2 L317.4,139.5 L318.1,139.8 L318.8,140.1 L319.5,140.3 L320.3,140.6 L321.0,140.9 L321.7,141.2 L322.4,141.4 L323.2,141.6 L323.9,141.9 L324.6,142.1 L325.3,142.3 L326.0,142.5 L326.8,142.7 L327.5,142.9 L328.2,143.0 L328.9,143.2 L329.7,143.3 L330.4,143.4 L331.1,143.6 L331.8,143.7 L332.5,143.7 L333.3,143.8 L334.0,143.9 L334.7,143.9 L335.4,144.0 L336.2,144.0 L336.9,144.0 L337.6,144.0 L338.3,144.0 L339.0,144.0 L339.8,144.0 L340.5,143.9 L341.2,143.8 L341.9,143.8 L342.7,143.7 L343.4,143.6 L344.1,143.5 L344.8,143.3 L345.6,143.2 L346.3,143.1 L347.0,142.9 L347.7,142.7 L348.4,142.5 L349.2,142.3 L349.9,142.1 L350.6,141.9 L351.3,141.7 L352.1,141.5 L352.8,141.2 L353.5,141.0 L354.2,140.7 L354.9,140.4 L355.7,140.1 L356.4,139.8 L357.1,139.5 L357.8,139.2 L358.6,138.9 L359.3,138.6 L360.0,138.3" stroke="#008000"/></g>
<g font-family="Liberation Serif, serif" font-size="11.4" fill="#1a1a1a"><text transform="translate(71.00,293.90) scale(1,1.18)" text-anchor="middle">0</text><text transform="translate(143.25,293.90) scale(1,1.18)" text-anchor="middle">5</text><text transform="translate(215.50,293.90) scale(1,1.18)" text-anchor="middle">10</text><text transform="translate(287.75,293.90) scale(1,1.18)" text-anchor="middle">15</text><text transform="translate(360.00,293.90) scale(1,1.18)" text-anchor="middle">20</text><text transform="translate(66.5,280.20) scale(1,1.18)" text-anchor="end">0</text><text transform="translate(66.5,253.86) scale(1,1.18)" text-anchor="end">0.01</text><text transform="translate(66.5,227.53) scale(1,1.18)" text-anchor="end">0.02</text><text transform="translate(66.5,201.19) scale(1,1.18)" text-anchor="end">0.03</text><text transform="translate(66.5,174.86) scale(1,1.18)" text-anchor="end">0.04</text><text transform="translate(66.5,148.52) scale(1,1.18)" text-anchor="end">0.05</text><text transform="translate(66.5,122.19) scale(1,1.18)" text-anchor="end">0.06</text><text transform="translate(66.5,95.85) scale(1,1.18)" text-anchor="end">0.07</text><text transform="translate(66.5,69.52) scale(1,1.18)" text-anchor="end">0.08</text><text transform="translate(66.5,43.19) scale(1,1.18)" text-anchor="end">0.09</text><text transform="translate(66.5,16.85) scale(1,1.18)" text-anchor="end">0.1</text><text x="215" y="309.8" text-anchor="middle" font-size="12.5">t (x sqrt(m/E*R))</text><text transform="translate(41,144.2) rotate(-90)" text-anchor="middle" font-size="12.5">y (x R)</text></g>
<g stroke="#ececec" stroke-width="1.2"><line x1="131.74" y1="345.5" x2="131.74" y2="618.2"/><line x1="190.38" y1="345.5" x2="190.38" y2="618.2"/><line x1="249.02" y1="345.5" x2="249.02" y2="618.2"/><line x1="307.66" y1="345.5" x2="307.66" y2="618.2"/><line x1="73.1" y1="584.11" x2="366.3" y2="584.11"/><line x1="73.1" y1="550.03" x2="366.3" y2="550.03"/><line x1="73.1" y1="515.94" x2="366.3" y2="515.94"/><line x1="73.1" y1="481.85" x2="366.3" y2="481.85"/><line x1="73.1" y1="447.76" x2="366.3" y2="447.76"/><line x1="73.1" y1="413.68" x2="366.3" y2="413.68"/><line x1="73.1" y1="379.59" x2="366.3" y2="379.59"/></g>
<g stroke="#666" stroke-width="1"><line x1="73.10" y1="618.2" x2="73.10" y2="615.0"/><line x1="73.10" y1="345.5" x2="73.10" y2="348.7"/><line x1="131.74" y1="618.2" x2="131.74" y2="615.0"/><line x1="131.74" y1="345.5" x2="131.74" y2="348.7"/><line x1="190.38" y1="618.2" x2="190.38" y2="615.0"/><line x1="190.38" y1="345.5" x2="190.38" y2="348.7"/><line x1="249.02" y1="618.2" x2="249.02" y2="615.0"/><line x1="249.02" y1="345.5" x2="249.02" y2="348.7"/><line x1="307.66" y1="618.2" x2="307.66" y2="615.0"/><line x1="307.66" y1="345.5" x2="307.66" y2="348.7"/><line x1="366.30" y1="618.2" x2="366.30" y2="615.0"/><line x1="366.30" y1="345.5" x2="366.30" y2="348.7"/><line x1="73.1" y1="618.20" x2="76.3" y2="618.20"/><line x1="366.3" y1="618.20" x2="363.1" y2="618.20"/><line x1="73.1" y1="584.11" x2="76.3" y2="584.11"/><line x1="366.3" y1="584.11" x2="363.1" y2="584.11"/><line x1="73.1" y1="550.03" x2="76.3" y2="550.03"/><line x1="366.3" y1="550.03" x2="363.1" y2="550.03"/><line x1="73.1" y1="515.94" x2="76.3" y2="515.94"/><line x1="366.3" y1="515.94" x2="363.1" y2="515.94"/><line x1="73.1" y1="481.85" x2="76.3" y2="481.85"/><line x1="366.3" y1="481.85" x2="363.1" y2="481.85"/><line x1="73.1" y1="447.76" x2="76.3" y2="447.76"/><line x1="366.3" y1="447.76" x2="363.1" y2="447.76"/><line x1="73.1" y1="413.68" x2="76.3" y2="413.68"/><line x1="366.3" y1="413.68" x2="363.1" y2="413.68"/><line x1="73.1" y1="379.59" x2="76.3" y2="379.59"/><line x1="366.3" y1="379.59" x2="363.1" y2="379.59"/><line x1="73.1" y1="345.50" x2="76.3" y2="345.50"/><line x1="366.3" y1="345.50" x2="363.1" y2="345.50"/></g>
<g stroke-width="1.1" fill="none"><path d="M73.1,345.5 L73.1,618.2 L366.3,618.2 L366.3,345.5" stroke="#999999"/><path d="M73.1,345.5 L366.3,345.5" stroke="#737373"/></g>
<g fill="none" stroke-width="2.2" stroke-linejoin="round"><path d="M73.1,481.9 L73.1,480.7 L73.1,479.5 L73.2,478.4 L73.3,477.2 L73.3,476.1 L73.5,474.9 L73.6,473.8 L73.7,472.6 L73.9,471.5 L74.1,470.3 L74.3,469.2 L74.5,468.0 L74.8,466.9 L75.0,465.7 L75.3,464.6 L75.6,463.4 L76.0,462.3 L76.3,461.2 L76.7,460.0 L77.1,458.9 L77.5,457.7 L77.9,456.6 L78.3,455.4 L78.8,454.3 L79.3,453.2 L79.8,452.0 L80.3,450.9 L80.8,449.8 L81.4,448.6 L82.0,447.5 L82.6,446.4 L83.2,445.2 L83.9,444.1 L84.5,443.0 L85.2,441.9 L85.9,440.8 L86.6,439.6 L87.3,438.5 L88.1,437.4 L88.9,436.3 L89.7,435.2 L90.5,434.1 L91.3,433.0 L92.2,431.9 L93.0,430.8 L93.9,429.7 L94.8,428.6 L95.7,427.5 L96.7,426.5 L97.6,425.4 L98.6,424.3 L99.6,423.2 L100.6,422.2 L101.7,421.1 L102.7,420.1 L103.8,419.0 L104.9,418.0 L106.0,416.9 L107.1,415.9 L108.3,414.9 L109.4,413.8 L110.6,412.8 L111.8,411.8 L113.0,410.8 L114.3,409.8 L115.5,408.8 L116.8,407.8 L118.0,406.9 L119.3,405.9 L120.7,404.9 L122.0,404.0 L123.3,403.0 L124.7,402.1 L126.1,401.2 L127.5,400.2 L128.9,399.3 L130.3,398.4 L131.8,397.5 L133.2,396.6 L134.7,395.8 L136.2,394.9 L137.7,394.0 L139.2,393.2 L140.7,392.4 L142.3,391.5 L143.8,390.7 L145.4,389.9 L147.0,389.1 L148.6,388.3 L150.2,387.6 L151.9,386.8 L153.5,386.1 L155.1,385.3 L156.8,384.6 L158.5,383.9 L160.2,383.2 L161.9,382.5 L163.6,381.9 L165.3,381.2 L167.1,380.6 L168.8,380.0 L170.6,379.4 L172.3,378.8 L174.1,378.2 L175.9,377.6 L177.7,377.1 L179.5,376.6 L181.3,376.1 L183.1,375.6 L185.0,375.1 L186.8,374.6 L188.7,374.2 L190.5,373.7 L192.4,373.3 L194.3,372.9 L196.1,372.6 L198.0,372.2 L199.9,371.9 L201.8,371.5 L203.7,371.2 L205.6,370.9 L207.5,370.7 L209.4,370.4 L211.4,370.2 L213.3,370.0 L215.2,369.8 L217.1,369.6 L219.1,369.5 L221.0,369.3 L222.9,369.2 L224.9,369.2 L226.8,369.1 L228.7,369.0 L230.7,369.0 L232.6,369.0 L234.6,369.0 L236.5,369.1 L238.5,369.1 L240.4,369.2 L242.3,369.3 L244.3,369.4 L246.2,369.6 L248.1,369.7 L250.1,369.9 L252.0,370.1 L253.9,370.3 L255.8,370.6 L257.7,370.9 L259.6,371.2 L261.5,371.5 L263.4,371.8 L265.3,372.2 L267.2,372.6 L269.1,373.0 L270.9,373.4 L272.8,373.9 L274.7,374.3 L276.5,374.8 L278.3,375.4 L280.2,375.9 L282.0,376.5 L283.8,377.1 L285.6,377.7 L287.4,378.3 L289.2,379.0 L290.9,379.6 L292.7,380.3 L294.4,381.1 L296.1,381.8 L297.9,382.6 L299.6,383.4 L301.2,384.2 L302.9,385.0 L304.6,385.8 L306.2,386.7 L307.9,387.6 L309.5,388.5 L311.1,389.5 L312.6,390.4 L314.2,391.4 L315.8,392.4 L317.3,393.4 L318.8,394.5 L320.3,395.5 L321.8,396.6 L323.2,397.7 L324.7,398.8 L326.1,400.0 L327.5,401.2 L328.9,402.3 L330.2,403.5 L331.5,404.8 L332.9,406.0 L334.2,407.2 L335.4,408.5 L336.7,409.8 L337.9,411.1 L339.1,412.4 L340.3,413.8 L341.5,415.1 L342.6,416.5 L343.7,417.9 L344.8,419.3 L345.9,420.8 L346.9,422.2 L347.9,423.6 L348.9,425.1 L349.9,426.6 L350.8,428.1 L351.7,429.6 L352.6,431.1 L353.5,432.7 L354.3,434.2 L355.1,435.8 L355.9,437.4 L356.6,438.9 L357.3,440.5 L358.0,442.1 L358.7,443.8 L359.4,445.4 L360.0,447.0 L360.6,448.7 L361.1,450.3 L361.6,452.0 L362.1,453.7 L362.6,455.3 L363.0,457.0 L363.5,458.7 L363.8,460.4 L364.2,462.1 L364.5,463.8 L364.8,465.5 L365.1,467.3 L365.3,469.0 L365.5,470.7 L365.7,472.4 L365.9,474.2 L366.0,475.9 L366.1,477.6 L366.1,479.4 L366.1,481.1 L366.1,482.8 L366.1,484.6 L366.0,486.3 L366.0,488.0 L365.8,489.8 L365.7,491.5 L365.5,493.2 L365.3,495.0 L365.1,496.7 L364.8,498.4 L364.5,500.1 L364.2,501.8 L363.8,503.5 L363.4,505.2 L363.0,506.9 L362.5,508.6 L362.1,510.3 L361.6,511.9 L361.0,513.6 L360.5,515.2 L359.9,516.9 L359.3,518.5 L358.6,520.2 L358.0,521.8 L357.3,523.4 L356.5,525.0 L355.8,526.6 L355.0,528.1 L354.2,529.7 L353.3,531.2 L352.5,532.8 L351.6,534.3 L350.7,535.8 L349.7,537.3 L348.8,538.8 L347.8,540.2 L346.8,541.7 L345.7,543.1 L344.6,544.6 L343.6,546.0 L342.4,547.4 L341.3,548.7 L340.1,550.1 L339.0,551.4 L337.7,552.8 L336.5,554.1 L335.3,555.4 L334.0,556.6 L332.7,557.9 L331.4,559.1 L330.0,560.3 L328.7,561.5 L327.3,562.7 L325.9,563.9 L324.5,565.0 L323.0,566.1 L321.6,567.2 L320.1,568.3 L318.6,569.4 L317.1,570.4 L315.5,571.4 L314.0,572.4 L312.4,573.4 L310.9,574.4 L309.3,575.3 L307.6,576.2 L306.0,577.1 L304.4,578.0 L302.7,578.8 L301.0,579.6 L299.3,580.5 L297.6,581.2 L295.9,582.0 L294.2,582.7 L292.4,583.5 L290.7,584.2 L288.9,584.8 L287.1,585.5 L285.4,586.1 L283.6,586.7 L281.7,587.3 L279.9,587.9 L278.1,588.4 L276.3,588.9 L274.4,589.4 L272.6,589.9 L270.7,590.3 L268.8,590.8 L267.0,591.2 L265.1,591.6 L263.2,591.9 L261.3,592.3 L259.4,592.6 L257.5,592.9 L255.6,593.1 L253.6,593.4 L251.7,593.6 L249.8,593.8 L247.9,594.0 L245.9,594.2 L244.0,594.3 L242.1,594.4 L240.1,594.5 L238.2,594.6 L236.3,594.7 L234.3,594.7 L232.4,594.7 L230.4,594.7 L228.5,594.7 L226.6,594.6 L224.6,594.5 L222.7,594.4 L220.7,594.3 L218.8,594.2 L216.9,594.1 L214.9,593.9 L213.0,593.7 L211.1,593.5 L209.2,593.2 L207.3,593.0 L205.4,592.7 L203.4,592.4 L201.5,592.1 L199.7,591.8 L197.8,591.5 L195.9,591.1 L194.0,590.7 L192.1,590.3 L190.3,589.9 L188.4,589.5 L186.6,589.0 L184.7,588.6 L182.9,588.1 L181.1,587.6 L179.3,587.1 L177.5,586.5 L175.7,586.0 L173.9,585.4 L172.1,584.8 L170.3,584.2 L168.6,583.6 L166.8,583.0 L165.1,582.4 L163.4,581.7 L161.7,581.1 L160.0,580.4 L158.3,579.7 L156.6,579.0 L154.9,578.3 L153.3,577.5 L151.6,576.8 L150.0,576.0 L148.4,575.3 L146.8,574.5 L145.2,573.7 L143.6,572.9 L142.1,572.1 L140.5,571.2 L139.0,570.4 L137.5,569.6 L136.0,568.7 L134.5,567.8 L133.0,566.9 L131.6,566.1 L130.1,565.2 L128.7,564.3 L127.3,563.3 L125.9,562.4 L124.5,561.5 L123.2,560.5 L121.8,559.6 L120.5,558.6 L119.2,557.7 L117.9,556.7 L116.6,555.7 L115.3,554.7 L114.1,553.8 L112.9,552.8 L111.6,551.7 L110.5,550.7 L109.3,549.7 L108.1,548.7 L107.0,547.7 L105.9,546.6 L104.8,545.6 L103.7,544.5 L102.6,543.5 L101.5,542.4 L100.5,541.4 L99.5,540.3 L98.5,539.2 L97.5,538.2 L96.6,537.1 L95.6,536.0 L94.7,534.9 L93.8,533.8 L92.9,532.8 L92.0,531.7 L91.2,530.6 L90.4,529.5 L89.6,528.4 L88.8,527.3 L88.0,526.1 L87.2,525.0 L86.5,523.9 L85.8,522.8 L85.1,521.7 L84.4,520.6 L83.8,519.4 L83.1,518.3 L82.5,517.2 L81.9,516.1 L81.3,514.9 L80.8,513.8 L80.2,512.7 L79.7,511.5 L79.2,510.4 L78.7,509.2 L78.3,508.1 L77.8,507.0 L77.4,505.8 L77.0,504.7 L76.6,503.5 L76.3,502.4 L75.9,501.2 L75.6,500.1 L75.3,499.0 L75.0,497.8 L74.7,496.7 L74.5,495.5 L74.3,494.4 L74.1,493.2 L73.9,492.1 L73.7,490.9 L73.6,489.8 L73.4,488.6 L73.3,487.5 L73.2,486.3 L73.2,485.2 L73.1,484.0 L73.1,482.8 L73.1,481.7 L73.1,480.5 L73.1,479.4 L73.2,478.2 L73.3,477.1 L73.4,475.9 L73.5,474.8 L73.6,473.6 L73.8,472.5 L73.9,471.3 L74.1,470.2 L74.3,469.0 L74.6,467.9 L74.8,466.7 L75.1,465.6 L75.4,464.4 L75.7,463.3 L76.0,462.1" stroke="#000000"/><path d="M102.4,481.9 L102.4,480.8 L102.5,479.7 L102.5,478.7 L102.6,477.6 L102.6,476.6 L102.7,475.5 L102.9,474.5 L103.0,473.4 L103.2,472.4 L103.3,471.3 L103.5,470.3 L103.7,469.2 L103.9,468.2 L104.2,467.1 L104.5,466.1 L104.7,465.1 L105.0,464.0 L105.3,463.0 L105.7,461.9 L106.0,460.9 L106.4,459.9 L106.8,458.8 L107.2,457.8 L107.6,456.8 L108.1,455.7 L108.5,454.7 L109.0,453.7 L109.5,452.7 L110.0,451.6 L110.5,450.6 L111.1,449.6 L111.6,448.6 L112.2,447.6 L112.8,446.6 L113.4,445.6 L114.1,444.6 L114.7,443.6 L115.4,442.6 L116.1,441.6 L116.8,440.6 L117.5,439.7 L118.2,438.7 L119.0,437.7 L119.7,436.8 L120.5,435.8 L121.3,434.8 L122.1,433.9 L123.0,432.9 L123.8,432.0 L124.7,431.1 L125.6,430.1 L126.5,429.2 L127.4,428.3 L128.3,427.4 L129.2,426.4 L130.2,425.5 L131.2,424.6 L132.2,423.8 L133.2,422.9 L134.2,422.0 L135.2,421.1 L136.3,420.3 L137.4,419.4 L138.4,418.5 L139.5,417.7 L140.7,416.9 L141.8,416.0 L142.9,415.2 L144.1,414.4 L145.2,413.6 L146.4,412.8 L147.6,412.0 L148.8,411.3 L150.0,410.5 L151.3,409.7 L152.5,409.0 L153.8,408.2 L155.1,407.5 L156.3,406.8 L157.6,406.1 L158.9,405.4 L160.3,404.7 L161.6,404.0 L162.9,403.3 L164.3,402.7 L165.7,402.0 L167.0,401.4 L168.4,400.8 L169.8,400.2 L171.2,399.6 L172.7,399.0 L174.1,398.4 L175.5,397.8 L177.0,397.3 L178.4,396.8 L179.9,396.2 L181.4,395.7 L182.9,395.2 L184.4,394.7 L185.9,394.3 L187.4,393.8 L188.9,393.4 L190.4,392.9 L192.0,392.5 L193.5,392.1 L195.1,391.7 L196.6,391.4 L198.2,391.0 L199.7,390.7 L201.3,390.3 L202.9,390.0 L204.5,389.7 L206.0,389.5 L207.6,389.2 L209.2,388.9 L210.8,388.7 L212.4,388.5 L214.0,388.3 L215.7,388.1 L217.3,387.9 L218.9,387.8 L220.5,387.7 L222.1,387.5 L223.8,387.4 L225.4,387.4 L227.0,387.3 L228.6,387.3 L230.3,387.2 L231.9,387.2 L233.5,387.2 L235.1,387.2 L236.8,387.3 L238.4,387.3 L240.0,387.4 L241.6,387.5 L243.3,387.6 L244.9,387.8 L246.5,387.9 L248.1,388.1 L249.7,388.3 L251.3,388.5 L252.9,388.7 L254.5,388.9 L256.1,389.2 L257.7,389.5 L259.3,389.7 L260.9,390.1 L262.5,390.4 L264.0,390.7 L265.6,391.1 L267.2,391.5 L268.7,391.9 L270.3,392.3 L271.8,392.8 L273.3,393.2 L274.8,393.7 L276.4,394.2 L277.9,394.7 L279.4,395.3 L280.8,395.8 L282.3,396.4 L283.8,397.0 L285.2,397.6 L286.7,398.2 L288.1,398.9 L289.5,399.5 L290.9,400.2 L292.3,400.9 L293.7,401.6 L295.1,402.3 L296.5,403.1 L297.8,403.9 L299.2,404.6 L300.5,405.4 L301.8,406.3 L303.1,407.1 L304.4,408.0 L305.6,408.8 L306.9,409.7 L308.1,410.6 L309.3,411.5 L310.5,412.5 L311.7,413.4 L312.9,414.4 L314.0,415.4 L315.2,416.4 L316.3,417.4 L317.4,418.4 L318.5,419.4 L319.5,420.5 L320.6,421.6 L321.6,422.6 L322.6,423.7 L323.6,424.8 L324.6,426.0 L325.5,427.1 L326.5,428.3 L327.4,429.4 L328.3,430.6 L329.1,431.8 L330.0,433.0 L330.8,434.2 L331.6,435.4 L332.4,436.7 L333.2,437.9 L333.9,439.2 L334.6,440.4 L335.3,441.7 L336.0,443.0 L336.7,444.3 L337.3,445.6 L337.9,446.9 L338.5,448.2 L339.1,449.6 L339.6,450.9 L340.1,452.2 L340.6,453.6 L341.1,455.0 L341.6,456.3 L342.0,457.7 L342.4,459.1 L342.8,460.5 L343.1,461.9 L343.5,463.2 L343.8,464.6 L344.1,466.1 L344.3,467.5 L344.6,468.9 L344.8,470.3 L345.0,471.7 L345.1,473.1 L345.3,474.5 L345.4,476.0 L345.5,477.4 L345.5,478.8 L345.6,480.2 L345.6,481.7 L345.6,483.1 L345.5,484.5 L345.5,486.0 L345.4,487.4 L345.3,488.8 L345.2,490.2 L345.0,491.7 L344.8,493.1 L344.6,494.5 L344.4,495.9 L344.1,497.3 L343.9,498.7 L343.5,500.1 L343.2,501.5 L342.9,502.9 L342.5,504.3 L342.1,505.7 L341.7,507.0 L341.2,508.4 L340.8,509.8 L340.3,511.1 L339.8,512.5 L339.2,513.8 L338.7,515.2 L338.1,516.5 L337.5,517.8 L336.8,519.1 L336.2,520.4 L335.5,521.7 L334.8,523.0 L334.1,524.2 L333.4,525.5 L332.6,526.7 L331.8,528.0 L331.0,529.2 L330.2,530.4 L329.3,531.6 L328.5,532.8 L327.6,534.0 L326.7,535.2 L325.7,536.3 L324.8,537.5 L323.8,538.6 L322.8,539.7 L321.8,540.8 L320.8,541.9 L319.8,543.0 L318.7,544.0 L317.6,545.1 L316.5,546.1 L315.4,547.1 L314.3,548.1 L313.2,549.1 L312.0,550.1 L310.8,551.0 L309.6,552.0 L308.4,552.9 L307.2,553.8 L305.9,554.7 L304.7,555.5 L303.4,556.4 L302.1,557.2 L300.8,558.1 L299.5,558.9 L298.1,559.7 L296.8,560.4 L295.4,561.2 L294.1,561.9 L292.7,562.6 L291.3,563.3 L289.9,564.0 L288.5,564.7 L287.0,565.3 L285.6,566.0 L284.1,566.6 L282.7,567.2 L281.2,567.7 L279.7,568.3 L278.2,568.8 L276.7,569.4 L275.2,569.9 L273.7,570.4 L272.2,570.8 L270.6,571.3 L269.1,571.7 L267.5,572.1 L266.0,572.5 L264.4,572.9 L262.9,573.2 L261.3,573.6 L259.7,573.9 L258.1,574.2 L256.5,574.5 L254.9,574.7 L253.3,575.0 L251.7,575.2 L250.1,575.4 L248.5,575.6 L246.9,575.8 L245.3,575.9 L243.7,576.0 L242.0,576.2 L240.4,576.3 L238.8,576.3 L237.2,576.4 L235.5,576.5 L233.9,576.5 L232.3,576.5 L230.6,576.5 L229.0,576.5 L227.4,576.4 L225.8,576.3 L224.1,576.3 L222.5,576.2 L220.9,576.1 L219.3,575.9 L217.7,575.8 L216.0,575.6 L214.4,575.4 L212.8,575.3 L211.2,575.0 L209.6,574.8 L208.0,574.6 L206.4,574.3 L204.8,574.0 L203.3,573.7 L201.7,573.4 L200.1,573.1 L198.5,572.8 L197.0,572.4 L195.4,572.1 L193.9,571.7 L192.3,571.3 L190.8,570.9 L189.3,570.4 L187.8,570.0 L186.2,569.5 L184.7,569.1 L183.2,568.6 L181.7,568.1 L180.3,567.6 L178.8,567.1 L177.3,566.5 L175.9,566.0 L174.4,565.4 L173.0,564.9 L171.6,564.3 L170.2,563.7 L168.8,563.1 L167.4,562.4 L166.0,561.8 L164.6,561.2 L163.3,560.5 L161.9,559.9 L160.6,559.2 L159.3,558.5 L157.9,557.8 L156.6,557.1 L155.4,556.4 L154.1,555.6 L152.8,554.9 L151.6,554.2 L150.3,553.4 L149.1,552.6 L147.9,551.9 L146.7,551.1 L145.5,550.3 L144.3,549.5 L143.2,548.7 L142.0,547.9 L140.9,547.0 L139.8,546.2 L138.7,545.4 L137.6,544.5 L136.6,543.7 L135.5,542.8 L134.5,541.9 L133.4,541.0 L132.4,540.2 L131.4,539.3 L130.4,538.4 L129.5,537.5 L128.5,536.6 L127.6,535.6 L126.7,534.7 L125.8,533.8 L124.9,532.9 L124.0,531.9 L123.2,531.0 L122.3,530.0 L121.5,529.1 L120.7,528.1 L119.9,527.2 L119.1,526.2 L118.4,525.2 L117.7,524.3 L116.9,523.3 L116.2,522.3 L115.5,521.3 L114.9,520.3 L114.2,519.3 L113.6,518.3 L113.0,517.3 L112.4,516.3 L111.8,515.3 L111.2,514.3 L110.7,513.3 L110.1,512.3 L109.6,511.3 L109.1,510.3 L108.6,509.2 L108.2,508.2 L107.7,507.2 L107.3,506.2 L106.9,505.1 L106.5,504.1 L106.1,503.1 L105.8,502.0 L105.4,501.0 L105.1,499.9 L104.8,498.9 L104.5,497.9 L104.3,496.8 L104.0,495.8 L103.8,494.7 L103.6,493.7 L103.4,492.6 L103.2,491.6 L103.0,490.5 L102.9,489.5 L102.8,488.4 L102.7,487.4 L102.6,486.3 L102.5,485.3 L102.5,484.2 L102.4,483.2 L102.4,482.1 L102.4,481.1 L102.4,480.0 L102.5,478.9 L102.5,477.9 L102.6,476.8 L102.7,475.8 L102.8,474.7 L103.0,473.7 L103.1,472.6 L103.3,471.6 L103.5,470.5 L103.7,469.5 L103.9,468.4 L104.1,467.4 L104.4,466.3 L104.7,465.3 L105.0,464.3 L105.3,463.2 L105.6,462.2 L105.9,461.1 L106.3,460.1 L106.7,459.1 L107.1,458.0 L107.5,457.0 L108.0,456.0 L108.4,455.0" stroke="#0000ff"/><path d="M131.7,481.9 L131.7,481.0 L131.8,480.1 L131.8,479.2 L131.9,478.3 L131.9,477.4 L132.0,476.5 L132.1,475.6 L132.2,474.7 L132.4,473.8 L132.5,473.0 L132.7,472.1 L132.8,471.2 L133.0,470.3 L133.2,469.4 L133.5,468.5 L133.7,467.7 L133.9,466.8 L134.2,465.9 L134.5,465.0 L134.8,464.2 L135.1,463.3 L135.4,462.4 L135.8,461.6 L136.1,460.7 L136.5,459.8 L136.9,459.0 L137.3,458.1 L137.7,457.3 L138.1,456.4 L138.6,455.6 L139.0,454.7 L139.5,453.9 L140.0,453.0 L140.5,452.2 L141.0,451.4 L141.6,450.6 L142.1,449.7 L142.7,448.9 L143.2,448.1 L143.8,447.3 L144.4,446.5 L145.0,445.7 L145.7,444.9 L146.3,444.1 L147.0,443.3 L147.6,442.5 L148.3,441.7 L149.0,441.0 L149.7,440.2 L150.4,439.4 L151.2,438.7 L151.9,437.9 L152.7,437.2 L153.5,436.4 L154.3,435.7 L155.1,435.0 L155.9,434.3 L156.7,433.5 L157.5,432.8 L158.4,432.1 L159.2,431.4 L160.1,430.7 L161.0,430.1 L161.9,429.4 L162.8,428.7 L163.7,428.1 L164.7,427.4 L165.6,426.8 L166.6,426.1 L167.5,425.5 L168.5,424.9 L169.5,424.3 L170.5,423.7 L171.5,423.1 L172.5,422.5 L173.5,421.9 L174.6,421.3 L175.6,420.8 L176.7,420.2 L177.7,419.7 L178.8,419.1 L179.9,418.6 L181.0,418.1 L182.1,417.6 L183.2,417.1 L184.3,416.6 L185.4,416.2 L186.6,415.7 L187.7,415.2 L188.9,414.8 L190.0,414.4 L191.2,413.9 L192.3,413.5 L193.5,413.1 L194.7,412.7 L195.9,412.4 L197.1,412.0 L198.3,411.7 L199.5,411.3 L200.7,411.0 L202.0,410.7 L203.2,410.4 L204.4,410.1 L205.7,409.8 L206.9,409.5 L208.1,409.3 L209.4,409.0 L210.6,408.8 L211.9,408.6 L213.2,408.4 L214.4,408.2 L215.7,408.0 L217.0,407.8 L218.3,407.7 L219.5,407.5 L220.8,407.4 L222.1,407.3 L223.4,407.2 L224.7,407.1 L225.9,407.0 L227.2,406.9 L228.5,406.9 L229.8,406.9 L231.1,406.8 L232.4,406.8 L233.7,406.9 L235.0,406.9 L236.3,406.9 L237.6,407.0 L238.8,407.0 L240.1,407.1 L241.4,407.2 L242.7,407.3 L244.0,407.4 L245.3,407.6 L246.5,407.7 L247.8,407.9 L249.1,408.1 L250.3,408.3 L251.6,408.5 L252.9,408.7 L254.1,408.9 L255.4,409.2 L256.6,409.4 L257.9,409.7 L259.1,410.0 L260.3,410.3 L261.6,410.6 L262.8,411.0 L264.0,411.3 L265.2,411.7 L266.4,412.1 L267.6,412.5 L268.8,412.9 L270.0,413.3 L271.2,413.8 L272.3,414.2 L273.5,414.7 L274.6,415.1 L275.8,415.6 L276.9,416.1 L278.0,416.7 L279.2,417.2 L280.3,417.8 L281.4,418.3 L282.5,418.9 L283.5,419.5 L284.6,420.1 L285.7,420.7 L286.7,421.3 L287.7,422.0 L288.8,422.6 L289.8,423.3 L290.8,424.0 L291.8,424.7 L292.8,425.4 L293.7,426.1 L294.7,426.8 L295.6,427.6 L296.5,428.3 L297.5,429.1 L298.4,429.9 L299.2,430.6 L300.1,431.4 L301.0,432.3 L301.8,433.1 L302.7,433.9 L303.5,434.8 L304.3,435.6 L305.1,436.5 L305.8,437.3 L306.6,438.2 L307.3,439.1 L308.1,440.0 L308.8,440.9 L309.5,441.9 L310.1,442.8 L310.8,443.7 L311.5,444.7 L312.1,445.7 L312.7,446.6 L313.3,447.6 L313.9,448.6 L314.4,449.6 L315.0,450.6 L315.5,451.6 L316.0,452.6 L316.5,453.6 L317.0,454.6 L317.5,455.7 L317.9,456.7 L318.3,457.7 L318.7,458.8 L319.1,459.8 L319.5,460.9 L319.8,462.0 L320.2,463.0 L320.5,464.1 L320.8,465.2 L321.1,466.3 L321.3,467.4 L321.6,468.4 L321.8,469.5 L322.0,470.6 L322.2,471.7 L322.3,472.8 L322.5,473.9 L322.6,475.0 L322.7,476.1 L322.8,477.2 L322.9,478.3 L322.9,479.5 L323.0,480.6 L323.0,481.7 L323.0,482.8 L322.9,483.9 L322.9,485.0 L322.8,486.1 L322.8,487.2 L322.6,488.3 L322.5,489.4 L322.4,490.5 L322.2,491.6 L322.1,492.7 L321.9,493.8 L321.6,494.9 L321.4,496.0 L321.2,497.1 L320.9,498.2 L320.6,499.3 L320.3,500.3 L320.0,501.4 L319.6,502.5 L319.2,503.5 L318.9,504.6 L318.5,505.6 L318.0,506.7 L317.6,507.7 L317.2,508.8 L316.7,509.8 L316.2,510.8 L315.7,511.8 L315.2,512.8 L314.6,513.8 L314.1,514.8 L313.5,515.8 L312.9,516.8 L312.3,517.7 L311.7,518.7 L311.0,519.7 L310.4,520.6 L309.7,521.5 L309.0,522.5 L308.3,523.4 L307.6,524.3 L306.8,525.2 L306.1,526.1 L305.3,527.0 L304.5,527.8 L303.7,528.7 L302.9,529.5 L302.1,530.4 L301.2,531.2 L300.4,532.0 L299.5,532.8 L298.6,533.6 L297.7,534.4 L296.8,535.1 L295.9,535.9 L295.0,536.7 L294.0,537.4 L293.1,538.1 L292.1,538.8 L291.1,539.5 L290.1,540.2 L289.1,540.9 L288.1,541.5 L287.0,542.2 L286.0,542.8 L284.9,543.4 L283.9,544.0 L282.8,544.6 L281.7,545.2 L280.6,545.8 L279.5,546.3 L278.4,546.9 L277.3,547.4 L276.1,547.9 L275.0,548.4 L273.9,548.9 L272.7,549.4 L271.5,549.8 L270.4,550.3 L269.2,550.7 L268.0,551.1 L266.8,551.5 L265.6,551.9 L264.4,552.2 L263.2,552.6 L262.0,552.9 L260.7,553.3 L259.5,553.6 L258.3,553.9 L257.0,554.2 L255.8,554.4 L254.5,554.7 L253.3,554.9 L252.0,555.2 L250.7,555.4 L249.5,555.6 L248.2,555.8 L246.9,555.9 L245.7,556.1 L244.4,556.2 L243.1,556.4 L241.8,556.5 L240.5,556.6 L239.2,556.7 L238.0,556.7 L236.7,556.8 L235.4,556.8 L234.1,556.8 L232.8,556.9 L231.5,556.9 L230.2,556.8 L228.9,556.8 L227.6,556.8 L226.4,556.7 L225.1,556.6 L223.8,556.6 L222.5,556.5 L221.2,556.4 L219.9,556.2 L218.7,556.1 L217.4,555.9 L216.1,555.8 L214.8,555.6 L213.6,555.4 L212.3,555.2 L211.0,555.0 L209.8,554.8 L208.5,554.5 L207.3,554.3 L206.0,554.0 L204.8,553.7 L203.6,553.4 L202.3,553.1 L201.1,552.8 L199.9,552.5 L198.7,552.2 L197.5,551.8 L196.3,551.4 L195.1,551.1 L193.9,550.7 L192.7,550.3 L191.5,549.9 L190.4,549.5 L189.2,549.0 L188.1,548.6 L186.9,548.2 L185.8,547.7 L184.7,547.2 L183.5,546.7 L182.4,546.3 L181.3,545.8 L180.2,545.2 L179.1,544.7 L178.1,544.2 L177.0,543.7 L175.9,543.1 L174.9,542.6 L173.8,542.0 L172.8,541.4 L171.8,540.8 L170.8,540.2 L169.8,539.6 L168.8,539.0 L167.8,538.4 L166.9,537.8 L165.9,537.1 L165.0,536.5 L164.0,535.8 L163.1,535.2 L162.2,534.5 L161.3,533.9 L160.4,533.2 L159.5,532.5 L158.7,531.8 L157.8,531.1 L157.0,530.4 L156.1,529.7 L155.3,529.0 L154.5,528.2 L153.7,527.5 L152.9,526.8 L152.2,526.0 L151.4,525.3 L150.7,524.5 L150.0,523.7 L149.2,523.0 L148.5,522.2 L147.8,521.4 L147.2,520.6 L146.5,519.9 L145.9,519.1 L145.2,518.3 L144.6,517.5 L144.0,516.7 L143.4,515.9 L142.8,515.0 L142.3,514.2 L141.7,513.4 L141.2,512.6 L140.7,511.7 L140.2,510.9 L139.7,510.1 L139.2,509.2 L138.7,508.4 L138.3,507.6 L137.8,506.7 L137.4,505.9 L137.0,505.0 L136.6,504.1 L136.2,503.3 L135.9,502.4 L135.5,501.6 L135.2,500.7 L134.9,499.8 L134.6,498.9 L134.3,498.1 L134.0,497.2 L133.8,496.3 L133.5,495.4 L133.3,494.6 L133.1,493.7 L132.9,492.8 L132.7,491.9 L132.6,491.0 L132.4,490.1 L132.3,489.3 L132.1,488.4 L132.0,487.5 L132.0,486.6 L131.9,485.7 L131.8,484.8 L131.8,483.9 L131.8,483.0 L131.7,482.1 L131.7,481.2 L131.8,480.3 L131.8,479.5 L131.8,478.6 L131.9,477.7 L132.0,476.8 L132.1,475.9 L132.2,475.0 L132.3,474.1 L132.5,473.2 L132.6,472.3 L132.8,471.5 L133.0,470.6 L133.2,469.7 L133.4,468.8 L133.6,467.9 L133.9,467.1 L134.1,466.2 L134.4,465.3 L134.7,464.4 L135.0,463.6 L135.3,462.7 L135.7,461.8 L136.0,461.0 L136.4,460.1 L136.8,459.2 L137.2,458.4 L137.6,457.5 L138.0,456.7 L138.4,455.8 L138.9,455.0 L139.4,454.1" stroke="#ff00ff"/><path d="M161.1,481.9 L161.1,481.2 L161.1,480.5 L161.1,479.8 L161.2,479.1 L161.2,478.5 L161.3,477.8 L161.3,477.1 L161.4,476.4 L161.5,475.8 L161.6,475.1 L161.8,474.4 L161.9,473.7 L162.0,473.1 L162.2,472.4 L162.4,471.7 L162.5,471.1 L162.7,470.4 L162.9,469.7 L163.2,469.1 L163.4,468.4 L163.6,467.8 L163.9,467.1 L164.1,466.5 L164.4,465.8 L164.7,465.2 L165.0,464.5 L165.3,463.9 L165.6,463.2 L165.9,462.6 L166.3,461.9 L166.6,461.3 L167.0,460.7 L167.3,460.0 L167.7,459.4 L168.1,458.8 L168.5,458.2 L168.9,457.6 L169.3,457.0 L169.8,456.4 L170.2,455.7 L170.7,455.1 L171.1,454.6 L171.6,454.0 L172.1,453.4 L172.6,452.8 L173.1,452.2 L173.6,451.6 L174.1,451.1 L174.7,450.5 L175.2,449.9 L175.8,449.4 L176.3,448.8 L176.9,448.3 L177.5,447.7 L178.1,447.2 L178.7,446.7 L179.3,446.1 L179.9,445.6 L180.5,445.1 L181.2,444.6 L181.8,444.1 L182.5,443.6 L183.1,443.1 L183.8,442.6 L184.5,442.1 L185.2,441.7 L185.9,441.2 L186.6,440.7 L187.3,440.3 L188.0,439.8 L188.7,439.4 L189.5,439.0 L190.2,438.5 L190.9,438.1 L191.7,437.7 L192.5,437.3 L193.2,436.9 L194.0,436.5 L194.8,436.1 L195.6,435.7 L196.4,435.4 L197.2,435.0 L198.0,434.6 L198.8,434.3 L199.6,434.0 L200.5,433.6 L201.3,433.3 L202.1,433.0 L203.0,432.7 L203.8,432.4 L204.7,432.1 L205.5,431.8 L206.4,431.5 L207.3,431.3 L208.1,431.0 L209.0,430.8 L209.9,430.5 L210.8,430.3 L211.7,430.1 L212.6,429.9 L213.5,429.7 L214.4,429.5 L215.3,429.3 L216.2,429.1 L217.1,429.0 L218.0,428.8 L218.9,428.7 L219.8,428.5 L220.7,428.4 L221.6,428.3 L222.6,428.2 L223.5,428.1 L224.4,428.0 L225.3,427.9 L226.3,427.8 L227.2,427.8 L228.1,427.7 L229.1,427.7 L230.0,427.7 L230.9,427.6 L231.9,427.6 L232.8,427.6 L233.7,427.6 L234.7,427.7 L235.6,427.7 L236.5,427.7 L237.5,427.8 L238.4,427.9 L239.3,427.9 L240.2,428.0 L241.2,428.1 L242.1,428.2 L243.0,428.3 L243.9,428.4 L244.8,428.6 L245.8,428.7 L246.7,428.9 L247.6,429.0 L248.5,429.2 L249.4,429.4 L250.3,429.6 L251.2,429.8 L252.1,430.0 L253.0,430.2 L253.9,430.5 L254.7,430.7 L255.6,431.0 L256.5,431.2 L257.4,431.5 L258.2,431.8 L259.1,432.1 L259.9,432.4 L260.8,432.7 L261.6,433.1 L262.5,433.4 L263.3,433.7 L264.1,434.1 L264.9,434.5 L265.7,434.8 L266.6,435.2 L267.4,435.6 L268.1,436.0 L268.9,436.4 L269.7,436.9 L270.5,437.3 L271.2,437.7 L272.0,438.2 L272.7,438.6 L273.5,439.1 L274.2,439.6 L274.9,440.1 L275.7,440.6 L276.4,441.1 L277.1,441.6 L277.7,442.1 L278.4,442.6 L279.1,443.2 L279.8,443.7 L280.4,444.3 L281.0,444.8 L281.7,445.4 L282.3,446.0 L282.9,446.6 L283.5,447.1 L284.1,447.7 L284.7,448.3 L285.3,449.0 L285.8,449.6 L286.4,450.2 L286.9,450.8 L287.4,451.5 L288.0,452.1 L288.5,452.8 L289.0,453.4 L289.4,454.1 L289.9,454.8 L290.4,455.5 L290.8,456.1 L291.3,456.8 L291.7,457.5 L292.1,458.2 L292.5,458.9 L292.9,459.7 L293.3,460.4 L293.6,461.1 L294.0,461.8 L294.3,462.5 L294.6,463.3 L294.9,464.0 L295.2,464.8 L295.5,465.5 L295.8,466.2 L296.1,467.0 L296.3,467.8 L296.6,468.5 L296.8,469.3 L297.0,470.0 L297.2,470.8 L297.4,471.6 L297.5,472.3 L297.7,473.1 L297.8,473.9 L298.0,474.7 L298.1,475.4 L298.2,476.2 L298.3,477.0 L298.4,477.8 L298.4,478.6 L298.5,479.4 L298.5,480.1 L298.5,480.9 L298.5,481.7 L298.5,482.5 L298.5,483.3 L298.5,484.1 L298.4,484.9 L298.4,485.6 L298.3,486.4 L298.2,487.2 L298.1,488.0 L298.0,488.8 L297.9,489.5 L297.7,490.3 L297.6,491.1 L297.4,491.9 L297.2,492.6 L297.1,493.4 L296.9,494.2 L296.6,494.9 L296.4,495.7 L296.2,496.4 L295.9,497.2 L295.6,497.9 L295.3,498.7 L295.1,499.4 L294.7,500.2 L294.4,500.9 L294.1,501.6 L293.7,502.4 L293.4,503.1 L293.0,503.8 L292.6,504.5 L292.2,505.2 L291.8,505.9 L291.4,506.6 L291.0,507.3 L290.5,508.0 L290.1,508.7 L289.6,509.3 L289.1,510.0 L288.6,510.7 L288.1,511.3 L287.6,512.0 L287.1,512.6 L286.6,513.3 L286.0,513.9 L285.5,514.5 L284.9,515.1 L284.3,515.7 L283.7,516.3 L283.1,516.9 L282.5,517.5 L281.9,518.1 L281.3,518.7 L280.6,519.2 L280.0,519.8 L279.3,520.3 L278.7,520.9 L278.0,521.4 L277.3,521.9 L276.6,522.5 L275.9,523.0 L275.2,523.5 L274.5,523.9 L273.7,524.4 L273.0,524.9 L272.3,525.4 L271.5,525.8 L270.7,526.3 L270.0,526.7 L269.2,527.1 L268.4,527.5 L267.6,527.9 L266.8,528.3 L266.0,528.7 L265.2,529.1 L264.4,529.5 L263.6,529.8 L262.8,530.2 L261.9,530.5 L261.1,530.9 L260.2,531.2 L259.4,531.5 L258.5,531.8 L257.7,532.1 L256.8,532.4 L255.9,532.6 L255.1,532.9 L254.2,533.1 L253.3,533.4 L252.4,533.6 L251.5,533.8 L250.6,534.0 L249.7,534.2 L248.8,534.4 L247.9,534.6 L247.0,534.8 L246.1,534.9 L245.2,535.1 L244.3,535.2 L243.3,535.3 L242.4,535.5 L241.5,535.6 L240.6,535.7 L239.6,535.7 L238.7,535.8 L237.8,535.9 L236.9,535.9 L235.9,536.0 L235.0,536.0 L234.1,536.0 L233.1,536.1 L232.2,536.1 L231.3,536.1 L230.3,536.0 L229.4,536.0 L228.5,536.0 L227.5,535.9 L226.6,535.9 L225.7,535.8 L224.7,535.7 L223.8,535.7 L222.9,535.6 L222.0,535.5 L221.1,535.3 L220.1,535.2 L219.2,535.1 L218.3,534.9 L217.4,534.8 L216.5,534.6 L215.6,534.5 L214.7,534.3 L213.8,534.1 L212.9,533.9 L212.0,533.7 L211.1,533.5 L210.2,533.2 L209.3,533.0 L208.4,532.8 L207.6,532.5 L206.7,532.2 L205.8,532.0 L205.0,531.7 L204.1,531.4 L203.3,531.1 L202.4,530.8 L201.6,530.5 L200.8,530.2 L199.9,529.9 L199.1,529.5 L198.3,529.2 L197.5,528.8 L196.7,528.5 L195.9,528.1 L195.1,527.7 L194.3,527.3 L193.5,527.0 L192.7,526.6 L192.0,526.2 L191.2,525.7 L190.5,525.3 L189.7,524.9 L189.0,524.5 L188.3,524.0 L187.5,523.6 L186.8,523.1 L186.1,522.7 L185.4,522.2 L184.7,521.7 L184.0,521.3 L183.4,520.8 L182.7,520.3 L182.0,519.8 L181.4,519.3 L180.8,518.8 L180.1,518.3 L179.5,517.7 L178.9,517.2 L178.3,516.7 L177.7,516.2 L177.1,515.6 L176.5,515.1 L176.0,514.5 L175.4,514.0 L174.9,513.4 L174.3,512.8 L173.8,512.3 L173.3,511.7 L172.8,511.1 L172.3,510.5 L171.8,509.9 L171.3,509.4 L170.8,508.8 L170.4,508.2 L169.9,507.6 L169.5,507.0 L169.1,506.3 L168.6,505.7 L168.2,505.1 L167.8,504.5 L167.5,503.9 L167.1,503.2 L166.7,502.6 L166.4,502.0 L166.0,501.3 L165.7,500.7 L165.4,500.1 L165.1,499.4 L164.8,498.8 L164.5,498.1 L164.2,497.5 L164.0,496.8 L163.7,496.2 L163.5,495.5 L163.2,494.9 L163.0,494.2 L162.8,493.5 L162.6,492.9 L162.4,492.2 L162.3,491.5 L162.1,490.9 L161.9,490.2 L161.8,489.5 L161.7,488.8 L161.6,488.2 L161.5,487.5 L161.4,486.8 L161.3,486.2 L161.2,485.5 L161.2,484.8 L161.1,484.1 L161.1,483.4 L161.1,482.8 L161.1,482.1 L161.1,481.4 L161.1,480.7 L161.1,480.1 L161.1,479.4 L161.2,478.7 L161.2,478.0 L161.3,477.4 L161.4,476.7 L161.5,476.0 L161.6,475.3 L161.7,474.7 L161.8,474.0 L162.0,473.3 L162.1,472.6 L162.3,472.0 L162.5,471.3 L162.7,470.6 L162.9,470.0 L163.1,469.3 L163.3,468.7 L163.5,468.0 L163.8,467.3 L164.0,466.7 L164.3,466.0 L164.6,465.4 L164.9,464.7 L165.2,464.1 L165.5,463.4 L165.8,462.8 L166.1,462.2 L166.5,461.5 L166.8,460.9 L167.2,460.3 L167.6,459.6 L168.0,459.0 L168.4,458.4" stroke="#ff0000"/><path d="M190.4,481.9 L190.4,481.4 L190.4,481.0 L190.4,480.6 L190.4,480.2 L190.5,479.7 L190.5,479.3 L190.6,478.9 L190.6,478.5 L190.7,478.1 L190.7,477.6 L190.8,477.2 L190.9,476.8 L191.0,476.4 L191.1,476.0 L191.2,475.6 L191.3,475.1 L191.4,474.7 L191.6,474.3 L191.7,473.9 L191.8,473.5 L192.0,473.1 L192.1,472.7 L192.3,472.3 L192.5,471.9 L192.6,471.5 L192.8,471.1 L193.0,470.7 L193.2,470.3 L193.4,469.9 L193.6,469.5 L193.8,469.1 L194.1,468.7 L194.3,468.3 L194.5,467.9 L194.8,467.5 L195.0,467.2 L195.3,466.8 L195.5,466.4 L195.8,466.0 L196.1,465.7 L196.4,465.3 L196.6,464.9 L196.9,464.6 L197.2,464.2 L197.5,463.9 L197.9,463.5 L198.2,463.2 L198.5,462.8 L198.8,462.5 L199.2,462.1 L199.5,461.8 L199.9,461.5 L200.2,461.1 L200.6,460.8 L200.9,460.5 L201.3,460.1 L201.7,459.8 L202.1,459.5 L202.4,459.2 L202.8,458.9 L203.2,458.6 L203.6,458.3 L204.0,458.0 L204.5,457.7 L204.9,457.4 L205.3,457.2 L205.7,456.9 L206.2,456.6 L206.6,456.3 L207.0,456.1 L207.5,455.8 L207.9,455.6 L208.4,455.3 L208.8,455.1 L209.3,454.8 L209.8,454.6 L210.2,454.4 L210.7,454.1 L211.2,453.9 L211.7,453.7 L212.2,453.5 L212.7,453.3 L213.2,453.1 L213.6,452.9 L214.2,452.7 L214.7,452.5 L215.2,452.3 L215.7,452.1 L216.2,452.0 L216.7,451.8 L217.2,451.6 L217.7,451.5 L218.3,451.3 L218.8,451.2 L219.3,451.0 L219.8,450.9 L220.4,450.8 L220.9,450.6 L221.5,450.5 L222.0,450.4 L222.5,450.3 L223.1,450.2 L223.6,450.1 L224.2,450.0 L224.7,449.9 L225.3,449.9 L225.8,449.8 L226.4,449.7 L226.9,449.7 L227.5,449.6 L228.0,449.6 L228.6,449.5 L229.1,449.5 L229.7,449.5 L230.3,449.4 L230.8,449.4 L231.4,449.4 L231.9,449.4 L232.5,449.4 L233.1,449.4 L233.6,449.4 L234.2,449.4 L234.7,449.5 L235.3,449.5 L235.8,449.5 L236.4,449.6 L237.0,449.6 L237.5,449.7 L238.1,449.7 L238.6,449.8 L239.2,449.9 L239.7,449.9 L240.3,450.0 L240.8,450.1 L241.4,450.2 L241.9,450.3 L242.4,450.4 L243.0,450.5 L243.5,450.7 L244.0,450.8 L244.6,450.9 L245.1,451.1 L245.6,451.2 L246.2,451.4 L246.7,451.5 L247.2,451.7 L247.7,451.8 L248.2,452.0 L248.8,452.2 L249.3,452.4 L249.8,452.6 L250.3,452.8 L250.8,453.0 L251.3,453.2 L251.8,453.4 L252.2,453.6 L252.7,453.8 L253.2,454.1 L253.7,454.3 L254.2,454.6 L254.6,454.8 L255.1,455.1 L255.5,455.3 L256.0,455.6 L256.4,455.8 L256.9,456.1 L257.3,456.4 L257.8,456.7 L258.2,457.0 L258.6,457.3 L259.0,457.6 L259.5,457.9 L259.9,458.2 L260.3,458.5 L260.7,458.8 L261.1,459.1 L261.5,459.5 L261.8,459.8 L262.2,460.1 L262.6,460.5 L262.9,460.8 L263.3,461.2 L263.7,461.5 L264.0,461.9 L264.3,462.2 L264.7,462.6 L265.0,463.0 L265.3,463.3 L265.6,463.7 L266.0,464.1 L266.3,464.5 L266.6,464.9 L266.8,465.3 L267.1,465.7 L267.4,466.1 L267.7,466.5 L267.9,466.9 L268.2,467.3 L268.4,467.7 L268.7,468.1 L268.9,468.5 L269.1,468.9 L269.3,469.3 L269.6,469.8 L269.8,470.2 L270.0,470.6 L270.2,471.1 L270.3,471.5 L270.5,471.9 L270.7,472.4 L270.8,472.8 L271.0,473.2 L271.1,473.7 L271.3,474.1 L271.4,474.6 L271.5,475.0 L271.6,475.5 L271.7,475.9 L271.8,476.4 L271.9,476.8 L272.0,477.3 L272.1,477.7 L272.1,478.2 L272.2,478.7 L272.3,479.1 L272.3,479.6 L272.3,480.0 L272.4,480.5 L272.4,480.9 L272.4,481.4 L272.4,481.9 L272.4,482.3 L272.4,482.8 L272.4,483.2 L272.3,483.7 L272.3,484.2 L272.3,484.6 L272.2,485.1 L272.1,485.5 L272.1,486.0 L272.0,486.4 L271.9,486.9 L271.8,487.4 L271.7,487.8 L271.6,488.3 L271.5,488.7 L271.4,489.2 L271.3,489.6 L271.1,490.0 L271.0,490.5 L270.8,490.9 L270.7,491.4 L270.5,491.8 L270.3,492.2 L270.1,492.7 L269.9,493.1 L269.7,493.5 L269.5,494.0 L269.3,494.4 L269.1,494.8 L268.9,495.2 L268.7,495.6 L268.4,496.1 L268.2,496.5 L267.9,496.9 L267.6,497.3 L267.4,497.7 L267.1,498.1 L266.8,498.5 L266.5,498.9 L266.2,499.3 L265.9,499.6 L265.6,500.0 L265.3,500.4 L265.0,500.8 L264.7,501.1 L264.3,501.5 L264.0,501.9 L263.6,502.2 L263.3,502.6 L262.9,502.9 L262.6,503.3 L262.2,503.6 L261.8,503.9 L261.4,504.3 L261.0,504.6 L260.6,504.9 L260.2,505.2 L259.8,505.5 L259.4,505.9 L259.0,506.2 L258.6,506.5 L258.2,506.8 L257.7,507.0 L257.3,507.3 L256.9,507.6 L256.4,507.9 L256.0,508.1 L255.5,508.4 L255.0,508.7 L254.6,508.9 L254.1,509.2 L253.6,509.4 L253.2,509.6 L252.7,509.9 L252.2,510.1 L251.7,510.3 L251.2,510.5 L250.7,510.7 L250.2,510.9 L249.7,511.1 L249.2,511.3 L248.7,511.5 L248.2,511.7 L247.7,511.9 L247.2,512.0 L246.6,512.2 L246.1,512.4 L245.6,512.5 L245.1,512.6 L244.5,512.8 L244.0,512.9 L243.5,513.0 L242.9,513.2 L242.4,513.3 L241.9,513.4 L241.3,513.5 L240.8,513.6 L240.2,513.7 L239.7,513.8 L239.1,513.8 L238.6,513.9 L238.0,514.0 L237.5,514.0 L236.9,514.1 L236.4,514.1 L235.8,514.2 L235.2,514.2 L234.7,514.2 L234.1,514.3 L233.6,514.3 L233.0,514.3 L232.5,514.3 L231.9,514.3 L231.3,514.3 L230.8,514.3 L230.2,514.3 L229.7,514.2 L229.1,514.2 L228.5,514.2 L228.0,514.1 L227.4,514.1 L226.9,514.0 L226.3,514.0 L225.8,513.9 L225.2,513.8 L224.7,513.8 L224.1,513.7 L223.6,513.6 L223.0,513.5 L222.5,513.4 L222.0,513.3 L221.4,513.2 L220.9,513.0 L220.3,512.9 L219.8,512.8 L219.3,512.7 L218.7,512.5 L218.2,512.4 L217.7,512.2 L217.2,512.1 L216.7,511.9 L216.1,511.7 L215.6,511.6 L215.1,511.4 L214.6,511.2 L214.1,511.0 L213.6,510.8 L213.1,510.6 L212.6,510.4 L212.1,510.2 L211.6,510.0 L211.2,509.8 L210.7,509.6 L210.2,509.3 L209.7,509.1 L209.3,508.9 L208.8,508.6 L208.4,508.4 L207.9,508.1 L207.4,507.9 L207.0,507.6 L206.6,507.3 L206.1,507.1 L205.7,506.8 L205.3,506.5 L204.8,506.2 L204.4,506.0 L204.0,505.7 L203.6,505.4 L203.2,505.1 L202.8,504.8 L202.4,504.5 L202.0,504.2 L201.6,503.8 L201.3,503.5 L200.9,503.2 L200.5,502.9 L200.2,502.6 L199.8,502.2 L199.5,501.9 L199.1,501.6 L198.8,501.2 L198.5,500.9 L198.1,500.5 L197.8,500.2 L197.5,499.8 L197.2,499.5 L196.9,499.1 L196.6,498.7 L196.3,498.4 L196.0,498.0 L195.8,497.6 L195.5,497.3 L195.2,496.9 L195.0,496.5 L194.7,496.1 L194.5,495.7 L194.3,495.4 L194.0,495.0 L193.8,494.6 L193.6,494.2 L193.4,493.8 L193.2,493.4 L193.0,493.0 L192.8,492.6 L192.6,492.2 L192.4,491.8 L192.3,491.4 L192.1,491.0 L192.0,490.6 L191.8,490.2 L191.7,489.8 L191.5,489.4 L191.4,488.9 L191.3,488.5 L191.2,488.1 L191.1,487.7 L191.0,487.3 L190.9,486.9 L190.8,486.4 L190.7,486.0 L190.7,485.6 L190.6,485.2 L190.6,484.8 L190.5,484.3 L190.5,483.9 L190.4,483.5 L190.4,483.1 L190.4,482.7 L190.4,482.2 L190.4,481.8 L190.4,481.4 L190.4,481.0 L190.4,480.5 L190.4,480.1 L190.5,479.7 L190.5,479.3 L190.6,478.9 L190.6,478.4 L190.7,478.0 L190.7,477.6 L190.8,477.2 L190.9,476.8 L191.0,476.3 L191.1,475.9 L191.2,475.5 L191.3,475.1 L191.4,474.7 L191.6,474.3 L191.7,473.9 L191.8,473.5 L192.0,473.0 L192.1,472.6 L192.3,472.2 L192.5,471.8 L192.6,471.4 L192.8,471.0 L193.0,470.6 L193.2,470.2 L193.4,469.8 L193.6,469.4 L193.8,469.1 L194.1,468.7 L194.3,468.3 L194.5,467.9 L194.8,467.5 L195.0,467.1 L195.3,466.8 L195.5,466.4" stroke="#ff8ec8"/><path d="M219.7,481.9 L219.7,481.7 L219.7,481.6 L219.7,481.5 L219.7,481.3 L219.7,481.2 L219.7,481.1 L219.8,480.9 L219.8,480.8 L219.8,480.7 L219.8,480.5 L219.8,480.4 L219.9,480.3 L219.9,480.1 L219.9,480.0 L220.0,479.9 L220.0,479.7 L220.0,479.6 L220.1,479.5 L220.1,479.4 L220.2,479.2 L220.2,479.1 L220.2,479.0 L220.3,478.8 L220.4,478.7 L220.4,478.6 L220.5,478.5 L220.5,478.3 L220.6,478.2 L220.7,478.1 L220.7,478.0 L220.8,477.8 L220.9,477.7 L220.9,477.6 L221.0,477.5 L221.1,477.4 L221.2,477.2 L221.2,477.1 L221.3,477.0 L221.4,476.9 L221.5,476.8 L221.6,476.7 L221.7,476.6 L221.8,476.4 L221.9,476.3 L221.9,476.2 L222.0,476.1 L222.1,476.0 L222.2,475.9 L222.3,475.8 L222.5,475.7 L222.6,475.6 L222.7,475.5 L222.8,475.4 L222.9,475.3 L223.0,475.2 L223.1,475.1 L223.2,475.0 L223.4,474.9 L223.5,474.8 L223.6,474.7 L223.7,474.6 L223.9,474.5 L224.0,474.4 L224.1,474.3 L224.2,474.3 L224.4,474.2 L224.5,474.1 L224.6,474.0 L224.8,473.9 L224.9,473.8 L225.0,473.8 L225.2,473.7 L225.3,473.6 L225.5,473.5 L225.6,473.5 L225.8,473.4 L225.9,473.3 L226.0,473.3 L226.2,473.2 L226.3,473.1 L226.5,473.1 L226.6,473.0 L226.8,473.0 L227.0,472.9 L227.1,472.8 L227.3,472.8 L227.4,472.7 L227.6,472.7 L227.7,472.6 L227.9,472.6 L228.1,472.5 L228.2,472.5 L228.4,472.5 L228.5,472.4 L228.7,472.4 L228.9,472.3 L229.0,472.3 L229.2,472.3 L229.4,472.2 L229.5,472.2 L229.7,472.2 L229.9,472.2 L230.0,472.1 L230.2,472.1 L230.4,472.1 L230.5,472.1 L230.7,472.0 L230.9,472.0 L231.0,472.0 L231.2,472.0 L231.4,472.0 L231.5,472.0 L231.7,472.0 L231.9,472.0 L232.0,472.0 L232.2,472.0 L232.4,472.0 L232.6,472.0 L232.7,472.0 L232.9,472.0 L233.1,472.0 L233.2,472.0 L233.4,472.0 L233.6,472.0 L233.7,472.0 L233.9,472.1 L234.1,472.1 L234.2,472.1 L234.4,472.1 L234.6,472.1 L234.8,472.2 L234.9,472.2 L235.1,472.2 L235.2,472.3 L235.4,472.3 L235.6,472.3 L235.7,472.4 L235.9,472.4 L236.1,472.5 L236.2,472.5 L236.4,472.5 L236.5,472.6 L236.7,472.6 L236.9,472.7 L237.0,472.7 L237.2,472.8 L237.3,472.8 L237.5,472.9 L237.6,473.0 L237.8,473.0 L237.9,473.1 L238.1,473.1 L238.2,473.2 L238.4,473.3 L238.5,473.3 L238.7,473.4 L238.8,473.5 L239.0,473.6 L239.1,473.6 L239.3,473.7 L239.4,473.8 L239.5,473.9 L239.7,473.9 L239.8,474.0 L239.9,474.1 L240.1,474.2 L240.2,474.3 L240.3,474.4 L240.5,474.5 L240.6,474.5 L240.7,474.6 L240.8,474.7 L241.0,474.8 L241.1,474.9 L241.2,475.0 L241.3,475.1 L241.4,475.2 L241.5,475.3 L241.7,475.4 L241.8,475.5 L241.9,475.6 L242.0,475.7 L242.1,475.8 L242.2,476.0 L242.3,476.1 L242.4,476.2 L242.5,476.3 L242.6,476.4 L242.7,476.5 L242.8,476.6 L242.8,476.7 L242.9,476.9 L243.0,477.0 L243.1,477.1 L243.2,477.2 L243.3,477.3 L243.3,477.5 L243.4,477.6 L243.5,477.7 L243.6,477.8 L243.6,478.0 L243.7,478.1 L243.8,478.2 L243.8,478.3 L243.9,478.5 L243.9,478.6 L244.0,478.7 L244.0,478.8 L244.1,479.0 L244.1,479.1 L244.2,479.2 L244.2,479.4 L244.3,479.5 L244.3,479.6 L244.3,479.8 L244.4,479.9 L244.4,480.0 L244.4,480.2 L244.5,480.3 L244.5,480.4 L244.5,480.6 L244.5,480.7 L244.6,480.8 L244.6,481.0 L244.6,481.1 L244.6,481.3 L244.6,481.4 L244.6,481.5 L244.6,481.7 L244.6,481.8 L244.6,481.9 L244.6,482.1 L244.6,482.2 L244.6,482.3 L244.6,482.5 L244.6,482.6 L244.6,482.8 L244.6,482.9 L244.5,483.0 L244.5,483.2 L244.5,483.3 L244.5,483.4 L244.4,483.6 L244.4,483.7 L244.4,483.8 L244.3,484.0 L244.3,484.1 L244.3,484.2 L244.2,484.4 L244.2,484.5 L244.1,484.6 L244.1,484.8 L244.0,484.9 L244.0,485.0 L243.9,485.1 L243.9,485.3 L243.8,485.4 L243.7,485.5 L243.7,485.6 L243.6,485.8 L243.5,485.9 L243.5,486.0 L243.4,486.1 L243.3,486.3 L243.2,486.4 L243.2,486.5 L243.1,486.6 L243.0,486.7 L242.9,486.9 L242.8,487.0 L242.7,487.1 L242.6,487.2 L242.6,487.3 L242.5,487.4 L242.4,487.6 L242.3,487.7 L242.2,487.8 L242.1,487.9 L242.0,488.0 L241.8,488.1 L241.7,488.2 L241.6,488.3 L241.5,488.4 L241.4,488.5 L241.3,488.6 L241.2,488.7 L241.1,488.8 L240.9,488.9 L240.8,489.0 L240.7,489.1 L240.6,489.2 L240.4,489.3 L240.3,489.4 L240.2,489.4 L240.0,489.5 L239.9,489.6 L239.8,489.7 L239.6,489.8 L239.5,489.9 L239.4,489.9 L239.2,490.0 L239.1,490.1 L238.9,490.2 L238.8,490.2 L238.7,490.3 L238.5,490.4 L238.4,490.4 L238.2,490.5 L238.1,490.6 L237.9,490.6 L237.8,490.7 L237.6,490.8 L237.5,490.8 L237.3,490.9 L237.1,490.9 L237.0,491.0 L236.8,491.0 L236.7,491.1 L236.5,491.1 L236.4,491.2 L236.2,491.2 L236.0,491.3 L235.9,491.3 L235.7,491.3 L235.5,491.4 L235.4,491.4 L235.2,491.4 L235.0,491.5 L234.9,491.5 L234.7,491.5 L234.5,491.6 L234.4,491.6 L234.2,491.6 L234.0,491.6 L233.9,491.6 L233.7,491.7 L233.5,491.7 L233.4,491.7 L233.2,491.7 L233.0,491.7 L232.9,491.7 L232.7,491.7 L232.5,491.7 L232.4,491.7 L232.2,491.7 L232.0,491.7 L231.8,491.7 L231.7,491.7 L231.5,491.7 L231.3,491.7 L231.2,491.7 L231.0,491.7 L230.8,491.7 L230.7,491.6 L230.5,491.6 L230.3,491.6 L230.2,491.6 L230.0,491.6 L229.8,491.5 L229.7,491.5 L229.5,491.5 L229.3,491.5 L229.2,491.4 L229.0,491.4 L228.8,491.4 L228.7,491.3 L228.5,491.3 L228.3,491.2 L228.2,491.2 L228.0,491.1 L227.9,491.1 L227.7,491.1 L227.5,491.0 L227.4,491.0 L227.2,490.9 L227.1,490.8 L226.9,490.8 L226.8,490.7 L226.6,490.7 L226.5,490.6 L226.3,490.5 L226.2,490.5 L226.0,490.4 L225.9,490.3 L225.7,490.3 L225.6,490.2 L225.4,490.1 L225.3,490.1 L225.2,490.0 L225.0,489.9 L224.9,489.8 L224.7,489.8 L224.6,489.7 L224.5,489.6 L224.3,489.5 L224.2,489.4 L224.1,489.3 L223.9,489.2 L223.8,489.2 L223.7,489.1 L223.6,489.0 L223.5,488.9 L223.3,488.8 L223.2,488.7 L223.1,488.6 L223.0,488.5 L222.9,488.4 L222.8,488.3 L222.6,488.2 L222.5,488.1 L222.4,488.0 L222.3,487.9 L222.2,487.8 L222.1,487.7 L222.0,487.6 L221.9,487.5 L221.8,487.3 L221.7,487.2 L221.6,487.1 L221.6,487.0 L221.5,486.9 L221.4,486.8 L221.3,486.7 L221.2,486.5 L221.1,486.4 L221.1,486.3 L221.0,486.2 L220.9,486.1 L220.8,486.0 L220.8,485.8 L220.7,485.7 L220.6,485.6 L220.6,485.5 L220.5,485.3 L220.5,485.2 L220.4,485.1 L220.3,485.0 L220.3,484.8 L220.2,484.7 L220.2,484.6 L220.1,484.5 L220.1,484.3 L220.1,484.2 L220.0,484.1 L220.0,483.9 L219.9,483.8 L219.9,483.7 L219.9,483.5 L219.9,483.4 L219.8,483.3 L219.8,483.1 L219.8,483.0 L219.8,482.9 L219.8,482.8 L219.7,482.6 L219.7,482.5 L219.7,482.4 L219.7,482.2 L219.7,482.1 L219.7,482.0 L219.7,481.8 L219.7,481.7 L219.7,481.6 L219.7,481.4 L219.7,481.3 L219.7,481.2 L219.7,481.0 L219.8,480.9 L219.8,480.8 L219.8,480.6 L219.8,480.5 L219.8,480.4 L219.9,480.2 L219.9,480.1 L219.9,480.0 L220.0,479.8 L220.0,479.7 L220.0,479.6 L220.1,479.5 L220.1,479.3 L220.2,479.2 L220.2,479.1 L220.3,478.9 L220.3,478.8 L220.4,478.7 L220.4,478.6 L220.5,478.4 L220.5,478.3 L220.6,478.2 L220.7,478.1 L220.7,477.9 L220.8,477.8 L220.9,477.7 L220.9,477.6 L221.0,477.5 L221.1,477.3 L221.2,477.2 L221.3,477.1 L221.3,477.0 L221.4,476.9" stroke="#008000"/></g>
<g font-family="Liberation Serif, serif" font-size="11.4" fill="#1a1a1a"><text transform="translate(73.10,633.50) scale(1,1.18)" text-anchor="middle">0</text><text transform="translate(131.74,633.50) scale(1,1.18)" text-anchor="middle">0.02</text><text transform="translate(190.38,633.50) scale(1,1.18)" text-anchor="middle">0.04</text><text transform="translate(249.02,633.50) scale(1,1.18)" text-anchor="middle">0.06</text><text transform="translate(307.66,633.50) scale(1,1.18)" text-anchor="middle">0.08</text><text transform="translate(366.30,633.50) scale(1,1.18)" text-anchor="middle">0.1</text><text transform="translate(68,622.70) scale(1,1.18)" text-anchor="end">-0.04</text><text transform="translate(68,588.61) scale(1,1.18)" text-anchor="end">-0.03</text><text transform="translate(68,554.53) scale(1,1.18)" text-anchor="end">-0.02</text><text transform="translate(68,520.44) scale(1,1.18)" text-anchor="end">-0.01</text><text transform="translate(68,486.35) scale(1,1.18)" text-anchor="end">0</text><text transform="translate(68,452.26) scale(1,1.18)" text-anchor="end">0.01</text><text transform="translate(68,418.18) scale(1,1.18)" text-anchor="end">0.02</text><text transform="translate(68,384.09) scale(1,1.18)" text-anchor="end">0.03</text><text transform="translate(68,350.00) scale(1,1.18)" text-anchor="end">0.04</text><text x="219.5" y="648.8" text-anchor="middle" font-size="12.5">y (x R)</text><text transform="translate(38.6,481.8) rotate(-90)" text-anchor="middle" font-size="12.5">v (x R)</text></g>
<text y="11.1" font-family="Liberation Serif, serif" font-size="17.5" fill="#000" stroke="#000" stroke-width="0.1"><tspan x="-1.0">a</tspan><tspan x="7.6">)</tspan></text>
<text y="337.5" font-family="Liberation Serif, serif" font-size="16.5" fill="#000" stroke="#000" stroke-width="0.1"><tspan x="-0.3" font-style="italic">b</tspan><tspan x="8.0">)</tspan></text>
<line x1="431" y1="80.30" x2="470.6" y2="80.30" stroke="#000000" stroke-width="1.3"/>
<text font-family="Liberation Serif, serif" font-size="12" fill="#000" stroke="#000" stroke-width="0.3"><tspan x="482.4" y="84.6" font-style="italic">y</tspan><tspan x="488.1" y="86.6" font-style="italic" font-size="9.6">in</tspan><tspan x="499.5" y="85.6" font-size="14">=</tspan><tspan x="511.3" y="84.3">0</tspan></text>
<line x1="431" y1="106.20" x2="470.6" y2="106.20" stroke="#0000ff" stroke-width="1.3"/>
<text font-family="Liberation Serif, serif" font-size="12" fill="#000" stroke="#000" stroke-width="0.3"><tspan x="481.1" y="110.5" font-style="italic">y</tspan><tspan x="486.8" y="112.5" font-style="italic" font-size="9.6">in</tspan><tspan x="498.2" y="111.5" font-size="14">=</tspan><tspan x="510.4" y="110.2">0.01</tspan><tspan x="532.0" y="110.5" font-style="italic">R</tspan></text>
<line x1="431" y1="132.10" x2="470.6" y2="132.10" stroke="#ff00ff" stroke-width="1.3"/>
<text font-family="Liberation Serif, serif" font-size="12" fill="#000" stroke="#000" stroke-width="0.3"><tspan x="481.1" y="136.4" font-style="italic">y</tspan><tspan x="486.8" y="138.4" font-style="italic" font-size="9.6">in</tspan><tspan x="498.2" y="137.4" font-size="14">=</tspan><tspan x="510.4" y="136.1">0.02</tspan><tspan x="532.0" y="136.4" font-style="italic">R</tspan></text>
<line x1="431" y1="158.00" x2="470.6" y2="158.00" stroke="#ff0000" stroke-width="1.3"/>
<text font-family="Liberation Serif, serif" font-size="12" fill="#000" stroke="#000" stroke-width="0.3"><tspan x="481.1" y="162.3" font-style="italic">y</tspan><tspan x="486.8" y="164.3" font-style="italic" font-size="9.6">in</tspan><tspan x="498.2" y="163.3" font-size="14">=</tspan><tspan x="510.4" y="162.0">0.03</tspan><tspan x="532.0" y="162.3" font-style="italic">R</tspan></text>
<line x1="431" y1="183.90" x2="470.6" y2="183.90" stroke="#ff8ec8" stroke-width="1.3"/>
<text font-family="Liberation Serif, serif" font-size="12" fill="#000" stroke="#000" stroke-width="0.3"><tspan x="481.1" y="188.2" font-style="italic">y</tspan><tspan x="486.8" y="190.2" font-style="italic" font-size="9.6">in</tspan><tspan x="498.2" y="189.2" font-size="14">=</tspan><tspan x="510.4" y="187.9">0.04</tspan><tspan x="532.0" y="188.2" font-style="italic">R</tspan></text>
<line x1="431" y1="209.80" x2="470.6" y2="209.80" stroke="#008000" stroke-width="1.3"/>
<text font-family="Liberation Serif, serif" font-size="12" fill="#000" stroke="#000" stroke-width="0.3"><tspan x="481.1" y="214.1" font-style="italic">y</tspan><tspan x="486.8" y="216.1" font-style="italic" font-size="9.6">in</tspan><tspan x="498.2" y="215.1" font-size="14">=</tspan><tspan x="510.4" y="213.8">0.05</tspan><tspan x="532.0" y="214.1" font-style="italic">R</tspan></text>
<line x1="431" y1="417.10" x2="470.6" y2="417.10" stroke="#000000" stroke-width="1.3"/>
<text font-family="Liberation Serif, serif" font-size="12" fill="#000" stroke="#000" stroke-width="0.3"><tspan x="482.4" y="421.4" font-style="italic">y</tspan><tspan x="488.1" y="423.4" font-style="italic" font-size="9.6">in</tspan><tspan x="499.5" y="422.4" font-size="14">=</tspan><tspan x="511.3" y="421.1">0</tspan></text>
<line x1="431" y1="443.00" x2="470.6" y2="443.00" stroke="#0000ff" stroke-width="1.3"/>
<text font-family="Liberation Serif, serif" font-size="12" fill="#000" stroke="#000" stroke-width="0.3"><tspan x="481.1" y="447.3" font-style="italic">y</tspan><tspan x="486.8" y="449.3" font-style="italic" font-size="9.6">in</tspan><tspan x="498.2" y="448.3" font-size="14">=</tspan><tspan x="510.4" y="447.0">0.01</tspan><tspan x="532.0" y="447.3" font-style="italic">R</tspan></text>
<line x1="431" y1="468.90" x2="470.6" y2="468.90" stroke="#ff00ff" stroke-width="1.3"/>
<text font-family="Liberation Serif, serif" font-size="12" fill="#000" stroke="#000" stroke-width="0.3"><tspan x="481.1" y="473.2" font-style="italic">y</tspan><tspan x="486.8" y="475.2" font-style="italic" font-size="9.6">in</tspan><tspan x="498.2" y="474.2" font-size="14">=</tspan><tspan x="510.4" y="472.9">0.02</tspan><tspan x="532.0" y="473.2" font-style="italic">R</tspan></text>
<line x1="431" y1="494.80" x2="470.6" y2="494.80" stroke="#ff0000" stroke-width="1.3"/>
<text font-family="Liberation Serif, serif" font-size="12" fill="#000" stroke="#000" stroke-width="0.3"><tspan x="481.1" y="499.1" font-style="italic">y</tspan><tspan x="486.8" y="501.1" font-style="italic" font-size="9.6">in</tspan><tspan x="498.2" y="500.1" font-size="14">=</tspan><tspan x="510.4" y="498.8">0.03</tspan><tspan x="532.0" y="499.1" font-style="italic">R</tspan></text>
<line x1="431" y1="520.70" x2="470.6" y2="520.70" stroke="#ff8ec8" stroke-width="1.3"/>
<text font-family="Liberation Serif, serif" font-size="12" fill="#000" stroke="#000" stroke-width="0.3"><tspan x="481.1" y="525.0" font-style="italic">y</tspan><tspan x="486.8" y="527.0" font-style="italic" font-size="9.6">in</tspan><tspan x="498.2" y="526.0" font-size="14">=</tspan><tspan x="510.4" y="524.7">0.04</tspan><tspan x="532.0" y="525.0" font-style="italic">R</tspan></text>
<line x1="431" y1="546.60" x2="470.6" y2="546.60" stroke="#008000" stroke-width="1.3"/>
<text font-family="Liberation Serif, serif" font-size="12" fill="#000" stroke="#000" stroke-width="0.3"><tspan x="481.1" y="550.9" font-style="italic">y</tspan><tspan x="486.8" y="552.9" font-style="italic" font-size="9.6">in</tspan><tspan x="498.2" y="551.9" font-size="14">=</tspan><tspan x="510.4" y="550.6">0.05</tspan><tspan x="532.0" y="550.9" font-style="italic">R</tspan></text>
</svg></body></html>
